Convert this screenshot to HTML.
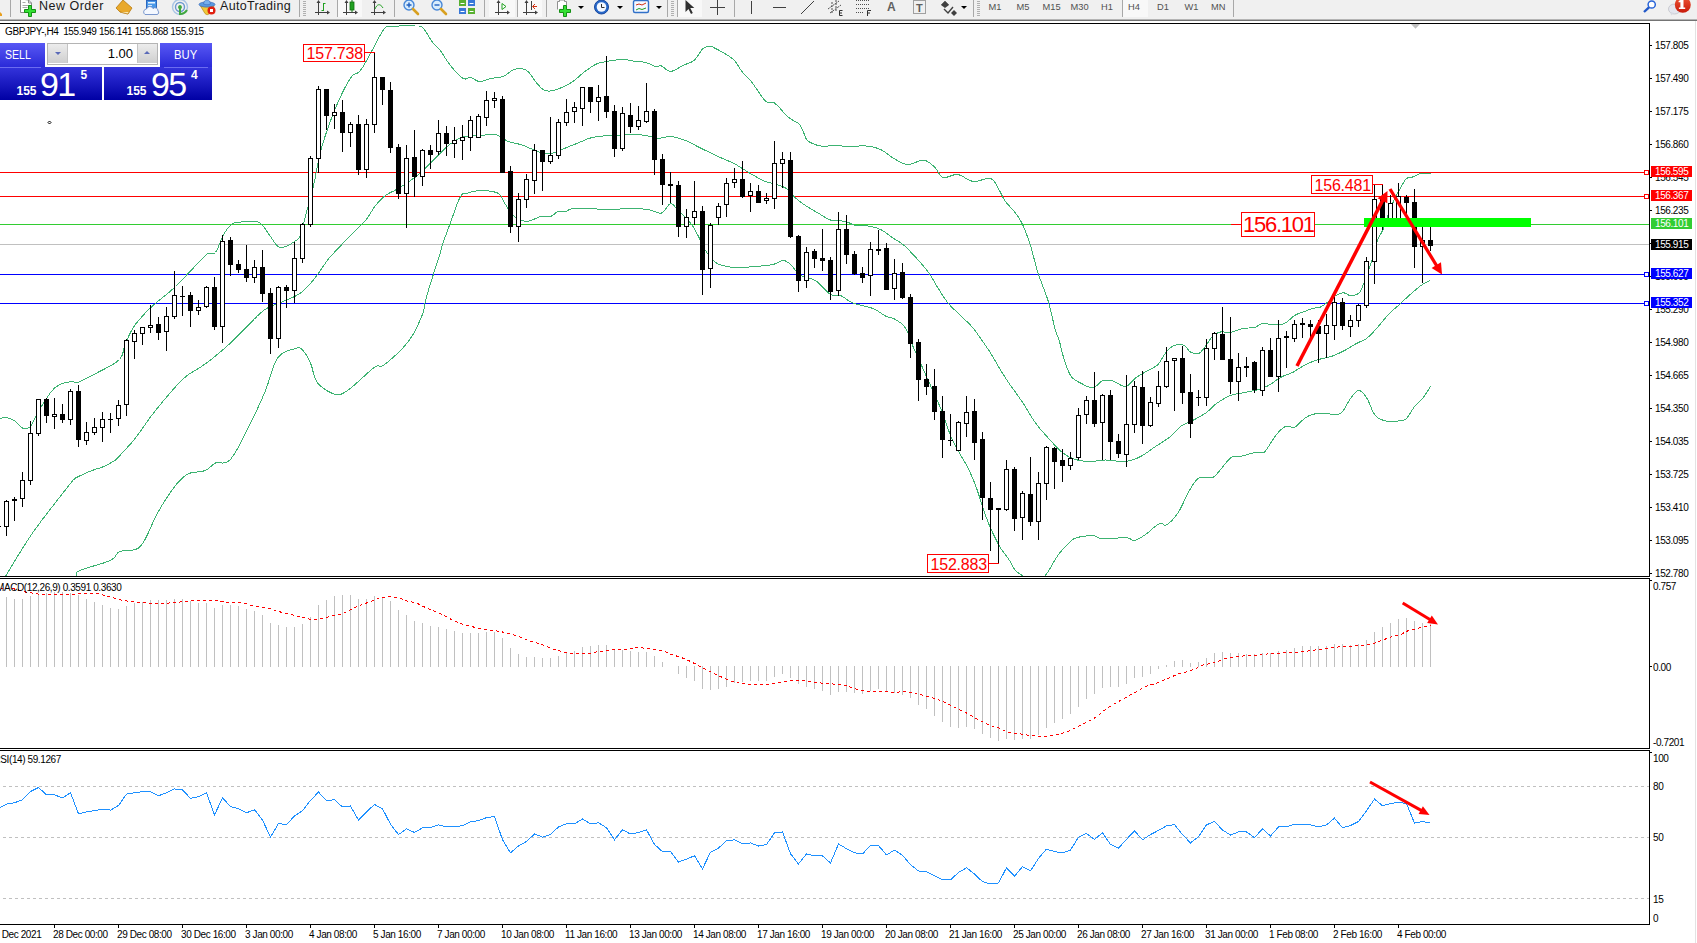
<!DOCTYPE html>
<html><head><meta charset="utf-8"><title>GBPJPY H4</title>
<style>
html,body{margin:0;padding:0;background:#fff;}
body{width:1697px;height:943px;position:relative;overflow:hidden;font-family:"Liberation Sans",sans-serif;}
.t{position:absolute;white-space:nowrap;font-family:"Liberation Sans",sans-serif;}
#chart{position:absolute;left:0;top:0;}
#tb{position:absolute;left:0;top:0;width:1697px;height:19px;background:#f0f0f0;}
#tbl1{position:absolute;left:0;top:19px;width:1697px;height:1px;background:#b4b4b4;}
#tbl2{position:absolute;left:0;top:20px;width:1697px;height:1px;background:#747474;}
.sep{position:absolute;top:0;width:1px;height:17px;background:#a8a8a8;}
.act{position:absolute;top:0;height:17px;background:#f8f8f8;}
.grip{position:absolute;top:1px;width:3px;height:15px;background:repeating-linear-gradient(#b0b0b0 0 1px,#f0f0f0 1px 2px);}
.tf{position:absolute;top:2px;font-size:9.3px;line-height:10px;color:#505050;}
.dd{position:absolute;top:6px;width:0;height:0;border-left:3px solid transparent;border-right:3px solid transparent;border-top:3px solid #000;}
.ico{position:absolute;top:0;}
#edge{position:absolute;left:1695px;top:21px;width:1px;height:922px;background:#e3e3e3;}
/* one click panel */
.bl{position:absolute;}
</style></head><body>
<svg id="chart" width="1697" height="943" viewBox="0 0 1697 943" shape-rendering="crispEdges">
<defs><clipPath id="cm"><rect x="0" y="24" width="1649" height="552"/></clipPath></defs>
<rect x="0" y="172" width="1649" height="1" fill="#ff0000"/>
<rect x="0" y="196" width="1649" height="1" fill="#ff0000"/>
<rect x="0" y="224" width="1649" height="1" fill="#32cd32"/>
<rect x="0" y="244" width="1649" height="1" fill="#c0c0c0"/>
<rect x="0" y="274" width="1649" height="1" fill="#0000ff"/>
<rect x="0" y="303" width="1649" height="1" fill="#0000ff"/>
<g clip-path="url(#cm)">
<polyline points="0.5,418.5 1.5,418.2 2.9,417.7 4.6,417.4 6.5,417.5 8.6,418.1 10.9,419 13.3,420.2 15.5,421.5 17.4,423.1 19.1,425.1 20.7,426.9 22.5,428 24.5,428.5 26.5,428.5 28.5,427.9 30.5,426.5 32.1,424.2 33.4,421.2 35.1,417.5 37.5,413 41,407.1 45.4,400.1 50,393.2 54.5,388 59,384.9 63.7,383.1 68,382.2 71.5,381.5 73.4,381.5 74.2,382.3 75.1,382.9 77.5,382.5 81.9,380.6 87.6,377.8 93.8,374.6 99.5,371.5 105,368.7 110.5,365.8 115.5,362.8 119.5,359.5 121.9,355.8 123.3,351.7 124.2,347.6 125.5,343.5 127.2,339.5 129,335.5 130.9,331.7 133,328 135.3,324.6 137.8,321.4 140.4,318.4 143,315.5 145.2,313 147.2,310.9 149.6,308.6 153,305.5 157.7,301.5 163.3,297 169.4,292 175.5,286.5 182,280 188.9,272.7 195.4,265.8 200.5,260.5 203.6,257.3 205.3,255.4 206.5,254.4 208,253.5 209.9,253.2 211.7,253.6 213.6,253.7 215.5,252.5 217.4,249.2 219.3,244.6 221.1,239.6 223,235.5 224.9,232.3 226.8,229.6 228.7,227.3 230.5,225.5 231.8,224.2 232.8,223.4 234.1,222.9 236.5,222.5 240.6,222 245.9,221.5 251.3,221.3 255.5,221.5 258.2,222.1 260,223 261.4,224.3 263,226 264.9,228.2 266.7,230.9 268.6,233.8 270.5,236.5 272.4,239.3 274.3,242.2 276.1,244.7 278,246.5 279.8,247.3 281.7,247.4 283.5,247.1 285.5,246.5 287.7,245.6 290.1,244.4 292.4,242.9 294.5,241.5 296.2,240.3 297.8,239.3 299.2,237.8 300.5,235.5 301.6,232.2 302.6,228.3 303.7,223.5 305,218 306.7,211.6 308.7,204.4 310.9,196.5 313,188 315,178.7 316.9,168.6 319,158.2 321.5,148 324.6,137.8 328.1,127.4 331.8,117.3 335.5,108 339.3,99.2 343.3,90.9 347.1,83.6 350.5,78 353.2,74.9 355.4,73.7 357.4,73.1 359.5,71.5 361.5,68.9 363.4,66.1 365.4,62.5 368,58 371.5,51.6 375.6,43.7 379.6,36.1 383,30.5 385,27.8 386.1,26.8 387.6,26.7 390.5,26.5 395.9,26.1 403,25.9 410.1,25.9 415.5,26 418.5,26 420.2,26 421.4,26.5 423,28 425.4,31 428.1,35.2 430.7,39.5 433,43 434.8,45 436.2,46.2 437.6,47.4 439.5,49.5 441.9,52.9 444.6,57.1 447.5,61.5 450.5,65.5 453.6,69.3 457,73.1 460.2,76.3 463,78.5 465.2,79.1 467,78.6 468.6,77.7 470.5,77.5 472.6,78.3 474.8,79.6 477.1,80.9 479.5,81.5 482.1,81.2 484.8,80.4 487.6,79.3 490.5,78.5 493.6,78 496.8,77.7 500,77.3 503,76.5 505.7,75.1 508.3,73.2 510.7,71.4 513,70 515.1,69.2 516.9,68.7 518.7,68.4 520.5,68.5 522.4,68.8 524.3,69.3 526.1,70.2 528,71.5 529.9,73.6 531.7,76.2 533.6,79 535.5,81.5 537.4,83.8 539.3,86 541.1,88 543,89.5 544.8,90.4 546.6,90.9 548.4,91.1 550.5,91 552.8,90.6 555.2,90 557.8,89.1 560.5,88 563.5,86.7 566.7,85.1 570,83.3 573,81.5 575.6,79.5 578,77.4 580.4,75.2 583,73 586,70.7 589.2,68.4 592.4,66.2 595.5,64.5 598.2,63.3 600.7,62.6 603.4,62.1 606.5,61.5 610.4,60.8 614.8,60.2 619.2,59.7 623,59.5 625.9,59.6 628.3,60 630.5,60.5 633,61 636,61.3 639.3,61.6 642.5,61.9 645.5,62.5 648.3,63.4 650.9,64.6 653.3,65.8 655.5,66.5 657.2,66.6 658.6,66.2 659.9,65.8 661.5,66 663.5,67.2 665.6,69.1 667.9,70.8 670.5,71.5 673.4,70.8 676.6,69.2 679.9,67.2 683,65.5 686,64.2 689,63.1 691.9,61.8 694.5,60 696.9,57.3 699,54 701,50.8 703,48.5 705,47.2 706.9,46.6 708.8,46.5 710.5,46.5 712,46.7 713.4,47.3 714.8,48.1 716.5,49 718.5,50 720.8,51.3 723.2,52.6 725.5,54 727.8,55.4 730.1,56.9 732.4,58.6 734.5,60.5 736.3,62.9 738,65.6 739.7,68.4 741.5,71 743.6,73.4 746,75.7 748.3,78.1 750.5,80.5 752.5,83.1 754.3,85.7 756.1,88.4 758,91 760,93.8 761.9,96.8 764,99.5 766,101.5 768,102.3 770.1,102.2 772.2,102.1 774.5,103 777.2,105.3 780.2,108.5 783,111.8 785.5,114.5 787.3,116.2 788.7,117.4 790,118.4 791.5,119.5 793.4,120.6 795.6,121.7 797.7,122.9 799.5,124.5 801,126.7 802.3,129.4 803.4,132.1 804.5,134.5 805.3,136.4 805.8,138.1 806.5,139.6 808,141 810.4,142.5 813.5,143.9 817,145.2 820.5,146 824.1,146.2 828,146 831.9,145.6 835.5,145.5 838.7,145.7 841.6,146 844.6,146.3 848,146.5 852.1,146.4 856.6,146.1 861.2,145.9 865.5,146 869.4,146.4 873.2,147.1 876.8,148.1 880.5,149.5 884.3,151.7 888.2,154.4 891.9,157.2 895.5,159.5 898.8,161.3 901.9,162.9 904.9,164 908,164.5 911.3,164 914.7,162.8 917.8,161.4 920.5,160.5 922.4,160.2 923.7,160.1 924.9,160.3 926.5,161 928.6,162.2 930.9,163.9 933.3,165.9 935.5,168 937.3,170.5 938.9,173.4 940.6,175.9 943,177.5 946.2,177.4 950,176.2 954.1,174.8 958,174.5 961.7,175.8 965.3,178 969.1,180.2 973,181.5 977.4,181.2 982.2,179.8 986.8,178.6 990.5,178.5 993.1,179.9 994.9,182.2 996.4,185.1 998,188 999.8,191.1 1001.6,194.6 1003.4,198.2 1005.5,201.5 1007.9,204.5 1010.5,207.3 1013.1,210.1 1015.5,213 1017.6,215.9 1019.4,218.7 1021.2,221.8 1023,225.5 1024.9,229.8 1026.7,234.6 1028.6,239.8 1030.5,245.5 1032.3,251.8 1034.1,258.8 1035.9,265.9 1038,273 1040.4,279.8 1043,286.6 1045.6,293.4 1048,300.5 1050.1,308.3 1052.1,316.6 1053.9,324.3 1055.5,330.5 1056.7,334.3 1057.6,336.4 1058.4,338.1 1059.3,340.5 1060.1,343.8 1060.9,347.4 1061.8,351.3 1063,355.5 1064.6,360.4 1066.4,366 1068.4,371.3 1070.5,375.5 1072.8,378.3 1075.2,380.2 1077.8,381.6 1080.5,383 1083.5,384.6 1086.7,386.2 1090,387.3 1093,387.5 1095.7,386.4 1098.2,384.3 1100.6,382 1103,380.5 1105.4,380 1107.8,380 1110.3,380.3 1113,381 1116,382.4 1119.3,384.3 1122.5,386 1125.5,386.5 1128.1,385.3 1130.5,383.1 1132.9,380.4 1135.5,378 1138.5,376 1141.7,374.1 1145,372.2 1148,370.5 1150.7,369 1153.3,367.7 1155.7,366.4 1158,364.5 1160.1,361.9 1161.9,358.8 1163.7,355.7 1165.5,353 1167.4,350.8 1169.3,348.9 1171.1,347.3 1173,346 1174.9,345.2 1176.9,344.7 1178.8,344.5 1180.5,344.5 1181.9,344.7 1183.2,345.1 1184.3,345.7 1185.5,346.5 1186.7,347.7 1187.8,349.3 1189,350.8 1190.5,352 1192.3,352.8 1194.4,353.5 1196.6,353.7 1198.5,353.5 1200.1,352.6 1201.5,351.3 1202.9,349.5 1204.5,347.5 1206.4,344.9 1208.4,341.9 1210.5,338.9 1212.5,336.5 1214.5,334.8 1216.4,333.5 1218.4,332.6 1220.5,332 1222.8,331.9 1225.3,332.2 1227.8,332.6 1230.5,332.5 1233.4,331.7 1236.4,330.6 1239.5,329.4 1242.5,328.5 1245.6,328.1 1248.7,328 1251.8,327.9 1254.5,327.5 1256.7,326.6 1258.6,325.4 1260.5,324.2 1262.5,323.5 1264.8,323.4 1267.3,323.8 1269.8,324.3 1272.5,324.5 1275.4,324.6 1278.5,324.6 1281.6,324.3 1284.5,323.5 1287.1,321.9 1289.6,319.7 1292,317.4 1294.5,315.5 1297,314.2 1299.6,313.2 1302.1,312.3 1304.5,311.5 1306.6,310.6 1308.6,309.8 1310.5,309.1 1312.5,308.5 1314.5,308.1 1316.5,307.9 1318.5,307.6 1320.5,307 1322.5,305.9 1324.6,304.5 1326.6,302.9 1328.5,301.5 1330.1,300.2 1331.6,298.8 1333,297.6 1334.5,296.5 1336,295.6 1337.6,294.7 1339.1,294 1340.5,293.5 1341.6,293.1 1342.5,292.9 1343.4,292.9 1344.5,293 1345.8,293.5 1347.3,294.3 1348.8,295.1 1350.5,295.5 1352.5,295.4 1354.6,295.1 1356.7,294.5 1358.5,293.5 1359.7,292.4 1360.6,291 1361.4,289.2 1362.5,286.5 1364.1,282.5 1365.9,277.5 1367.7,272.4 1369.3,268 1370.4,264.7 1371.3,262.1 1372.1,259.5 1373,256.5 1374,252.7 1375.1,248.5 1376.3,244.3 1377.5,240.5 1378.8,237.5 1380.2,234.9 1381.6,232.3 1383,229.5 1384.3,226.2 1385.5,222.7 1386.7,219.1 1388,215.5 1389.4,211.9 1390.7,208.3 1392.1,204.7 1393.5,201.5 1394.8,198.6 1396.1,196.1 1397.3,193.7 1398.5,191.5 1399.6,189.5 1400.6,187.7 1401.5,186.1 1402.5,184.5 1403.5,182.8 1404.4,181.1 1405.4,179.6 1406.5,178.5 1407.6,178 1408.7,177.9 1409.9,177.8 1411.5,177.5 1413.4,176.6 1415.7,175.5 1418.1,174.3 1420.5,173.5 1423.2,173.1 1426.1,173 1428.7,173 1430.5,173" fill="none" stroke="#3cb371" stroke-width="1" />
<polyline points="-2.5,590.5 -1.5,588.7 -0.2,586.2 2,582.4 5.5,576.5 10.7,567.8 17.2,556.9 24.6,545 32.5,533 41.9,520.1 52.7,506.1 62.7,493.3 70,484 73.5,479.6 74.3,478.6 74.2,479 74.5,479 75.3,478.3 75.9,477.8 76.8,477.3 78.5,476.5 81.3,475.2 84.8,473.6 88.6,471.9 92,470.5 94.9,469.5 97.6,468.6 100.1,467.9 102.5,467 104.7,466 106.8,465 108.7,464 110.5,463 112,462.2 113.3,461.4 114.6,460.6 116,459.5 117.4,458.2 118.8,456.7 120.4,454.9 122.5,452.5 125.1,449.7 128.2,446.5 131.6,442.7 135.5,438 139.8,432.1 144.6,425.3 149.8,417.9 155.5,410.5 161.9,402.6 169.1,394.1 176.1,386.1 182.5,379.5 188,374.9 193,371.6 197.5,369 201.5,366.5 204.8,364.2 207.3,362.4 209.9,360.5 213,358 217,354.7 221.5,350.9 226.2,346.9 230.5,343 234.4,339.3 238.2,335.5 241.8,331.7 245.5,328 249.4,324.1 253.3,320 257.1,316.2 260.5,313 263.2,310.8 265.5,309.2 267.8,307.9 270.5,306.5 273.9,305 277.7,303.6 281.6,302.1 285.5,300.5 289.3,298.8 293.2,297.2 296.9,295.3 300.5,293 303.8,290.3 306.9,287.4 309.9,284.1 313,280.5 316.3,276.2 319.7,271.4 322.9,266.7 325.5,263 326.9,260.9 327.5,260 328.4,258.9 330.5,256.5 334.6,252.1 339.9,246.5 345.5,240.7 350.5,235.5 354.7,231.3 358.6,227.6 362.2,224.1 365.5,220.5 368.4,216.6 370.8,212.7 373.1,208.9 375.5,205.5 378,202.6 380.4,199.9 382.9,197.6 385.5,195.5 388.1,193.8 390.7,192.4 393.5,191.1 396.5,189.5 399.9,187.4 403.6,185.1 407.2,182.7 410.5,180.5 413.2,178.6 415.6,177 417.9,175.2 420.5,173 423.4,170.2 426.6,167.1 429.8,163.7 433,160.5 436.2,157.3 439.4,153.9 442.6,150.8 445.5,148 448.2,145.7 450.7,143.7 453.1,142 455.5,140.5 457.9,139.2 460.2,138.1 462.6,137.2 465.5,136.5 469,136 472.8,135.8 476.8,135.7 480.5,135.5 483.9,135.2 487.2,134.8 490.3,134.5 493,134.5 495.2,134.7 497.1,135.1 498.7,135.7 500.5,136.5 502.3,137.6 503.9,138.9 505.8,140.3 508,141.5 510.8,142.3 513.9,143 517.3,143.7 520.5,144.5 523.7,145.6 526.9,147 530.1,148.3 533,149.5 535.7,150.6 538.2,151.6 540.6,152.4 543,153 545.4,153.4 547.8,153.5 550.3,153.4 553,153 555.9,152.1 559.1,150.8 562.3,149.4 565.5,148 568.6,146.7 571.7,145.5 574.9,144.3 578,143 581.1,141.7 584.3,140.3 587.4,139 590.5,138 593.6,137.3 596.7,136.7 599.9,136.3 603,136 606.2,135.8 609.4,135.7 612.6,135.6 615.5,135.5 618.1,135.3 620.5,135 622.9,134.7 625.5,134.5 628.4,134.4 631.6,134.3 634.8,134.3 638,134.5 641.2,134.9 644.6,135.4 647.7,136 650.5,136.5 652.6,137.1 654.3,137.7 655.9,138.3 658,138.5 660.7,138.1 663.8,137.4 667.1,136.7 670.5,136.5 674.1,137 677.8,137.9 681.7,139.1 685.5,140.5 689.2,142.1 692.8,144 696.6,146 700.5,148 704.8,150.1 709.3,152.3 713.7,154.5 718,156.5 722,158.2 725.8,159.8 729.5,161.4 733,163 736.4,164.8 739.6,166.8 742.6,168.7 745.5,170.5 748.2,172.1 750.7,173.7 753.1,175.1 755.5,176.5 758.1,177.9 760.7,179.3 763.2,180.5 765.5,181.5 767.4,182.2 769.1,182.5 770.8,182.9 773,183.5 775.8,184.3 779.1,185.3 782.4,186.4 785.5,188 788.2,190.2 790.7,192.8 793.1,195.5 795.5,198 797.9,200 800.2,201.8 802.6,203.6 805.5,205.5 809,207.7 813,210.1 817,212.5 820.5,214.5 823.2,216.2 825.5,217.7 827.8,219 830.5,220 834,220.6 838,220.8 842,221 845.5,221.5 848.3,222.4 850.7,223.6 852.9,224.7 855.5,225.5 858.4,225.8 861.6,225.8 864.8,225.7 868,226 871.1,226.5 874.3,227.3 877.4,228.2 880.5,229.5 883.7,231.3 886.9,233.6 890.1,235.9 893,238 895.7,239.7 898.2,241.2 900.6,242.7 903,244.5 905.5,246.7 908,249.2 910.5,251.8 913,254.5 915.6,257.2 918.2,260 920.7,262.8 923,265.5 925.1,268 926.9,270.4 928.7,272.8 930.5,275.5 932.3,278.4 934.1,281.4 935.9,284.6 938,288 940.3,291.6 942.7,295.5 945.3,299.4 948,303 950.9,306.3 954.1,309.4 957.3,312.4 960.5,315.5 963.6,318.5 966.7,321.4 969.9,324.5 973,328 976.3,332.3 979.7,337.1 982.9,341.7 985.5,345.5 987,347.7 987.8,348.8 988.7,350.1 990.5,353 993.5,358 997.2,364.4 1001.3,371.3 1005.5,378 1009.8,384.4 1014.4,390.8 1018.9,397.1 1023,403 1026.4,408.4 1029.4,413.5 1032.3,418.3 1035.5,423 1039.1,427.7 1043,432.2 1046.9,436.5 1050.5,440.5 1053.8,444.1 1056.9,447.4 1059.9,450.4 1063,453 1066.1,455.2 1069.1,456.9 1072.2,458.3 1075.5,459.5 1079.1,460.4 1082.8,461 1086.7,461.4 1090.5,461.5 1094.1,461.3 1097.7,460.8 1101.4,460.2 1105.5,460 1110.3,460.3 1115.5,461 1120.7,461.5 1125.5,461.5 1129.6,460.8 1133.3,459.7 1136.9,458.3 1140.5,456.5 1144.3,454.4 1148,451.8 1151.7,449.1 1155.5,446.5 1159.4,444 1163.3,441.5 1167.1,439 1170.5,436.5 1173.3,433.9 1175.7,431.3 1178,428.7 1180.5,426.5 1183.3,424.8 1186.3,423.4 1189.3,422 1192.5,420.5 1196,418.7 1199.6,416.7 1203.2,414.6 1206.5,412.5 1209.2,410.3 1211.5,408 1213.8,405.7 1216.5,403.5 1219.7,401.3 1223.3,399.1 1226.9,397.1 1230.5,395.5 1234,394.4 1237.6,393.7 1241.1,393.1 1244.5,392.5 1247.6,391.9 1250.6,391.3 1253.5,390.8 1256.5,390 1259.5,389.1 1262.5,388.1 1265.5,386.9 1268.5,385.5 1271.5,383.7 1274.5,381.5 1277.5,379.4 1280.5,377.5 1283.6,376 1286.7,374.8 1289.8,373.7 1292.5,372.5 1294.7,371.3 1296.5,370.1 1298.3,368.8 1300.5,367.5 1303.3,366 1306.5,364.3 1309.7,362.8 1312.5,361.5 1314.7,360.6 1316.5,360.1 1318.3,359.6 1320.5,359 1323.2,358.3 1326.3,357.7 1329.4,356.9 1332.5,356 1335.5,354.8 1338.5,353.5 1341.5,352 1344.5,350.5 1347.5,348.8 1350.6,347 1353.6,345.1 1356.5,343.5 1359.1,342.2 1361.6,341.2 1364,340.1 1366.5,338.5 1369,336.4 1371.4,334.1 1373.9,331.4 1376.5,328.5 1379.4,325.2 1382.4,321.6 1385.5,317.9 1388.5,314.5 1391.5,311.5 1394.5,308.8 1397.5,306.2 1400.5,303.5 1403.5,300.7 1406.6,297.8 1409.6,295 1412.5,292.5 1415.2,290.2 1417.7,288.1 1420.2,286.1 1422.5,284.5 1424.8,283.1 1427.1,282 1429.1,281.1 1430.5,280.5" fill="none" stroke="#3cb371" stroke-width="1" />
<polyline points="70.5,590.5 71.6,587.8 73.3,583.9 75.1,579.8 76.5,576.5 76.8,574.5 76.4,573.3 76.9,572.1 79.5,570.5 85.8,568.3 94.6,565.7 103.6,563 110.5,560.5 114.1,558 115.9,555.5 117.3,553.2 119.5,551.5 123.2,550.7 127.5,550.5 131.8,550.3 135.5,549.5 138.1,548.2 140.2,546.6 142.1,544.2 144.5,540.5 147.4,534.8 150.6,527.7 154,520 157.5,513 161.2,506.6 165.2,500.3 169.1,494.4 172.5,489.5 175.4,485.6 177.9,482.6 180.3,480.1 182.5,478 184.5,476.2 186.2,474.9 188.1,473.9 190.5,473 193.9,472.3 197.9,471.9 201.9,471.4 205.5,470.5 208.2,468.9 210.5,466.8 212.8,464.7 215.5,463 218.8,462.6 222.4,463.1 226.3,462.6 230.5,459.5 235.3,452.6 240.5,443.1 245.7,432.6 250.5,423 254.7,414.6 258.5,406.5 262.1,398.5 265.5,390.5 268.6,381.8 271.3,372.8 274.1,364.5 277.5,358 281.8,353.7 286.8,351.1 291.6,349.6 295.5,348.5 298,347.8 299.6,347.8 300.9,348.6 302.5,350 304.5,352.3 306.5,355.3 308.5,359 310.5,363 312.1,367.7 313.4,373.1 315,378.4 317.5,383 321.4,386.8 326.2,390.3 331.2,392.9 335.5,394.5 338.9,394.8 341.8,393.9 344.6,392.4 347.5,390.5 350.6,388.3 353.8,385.6 357.1,382.6 360.5,379.5 364.3,376.1 368.3,372.4 372.2,369 375.5,366.5 377.7,365.7 379.1,366.1 380.6,366.5 383,365.5 386.8,362.8 391.4,358.9 396.2,354.6 400.5,350.5 404,346.7 407.2,342.9 410.2,338.9 413,334.5 415.9,329.3 418.6,323.5 421.1,317.9 423,313 424,309.5 424.4,307 424.7,304.3 425.5,300.5 427.1,295 429,288.4 431.1,281.6 433,275.5 434.7,270.2 436.4,265.3 437.9,260.7 439.3,256.5 440.3,252.9 441,249.8 441.9,246.7 443,243 444.6,238.5 446.4,233.5 448.4,228.2 450.5,222.5 452.9,215.9 455.5,208.4 458.1,201.5 460.5,196.5 462.4,194 464.1,193.3 465.8,193.3 468,193 470.7,192.2 473.8,191.4 477.2,190.8 480.5,190.5 484.1,190.5 487.9,190.9 491.5,191.4 494.5,192 496.6,192.6 498.1,193.3 499.3,194.2 500.5,195.5 501.8,197.3 502.9,199.5 504.1,202 505.5,204.5 507.1,207.2 508.7,210.2 510.6,213.1 513,215.5 515.9,217.6 519.3,219.5 522.9,220.9 526.5,221.5 530.1,220.9 533.7,219.4 537.3,217.7 540.5,216.5 543.3,216.3 545.9,216.5 548.3,216.7 550.5,216.5 552.6,215.5 554.4,214 556.2,212.5 558,211.5 559.8,211.2 561.6,211.4 563.4,211.6 565.5,211.5 567.2,210.9 568.6,209.9 571,209 575.5,208.5 583.5,208.5 594.1,208.9 604.7,209.3 613,209.5 617.6,209.3 620.2,209 622.3,208.7 625.5,208.5 630.6,208.6 636.7,208.7 642.8,209 648,209.5 652.1,210.5 655.6,211.9 658.7,213 661.5,213 664.1,211.2 666.4,208 668.5,205 670.5,203.5 672.4,204 674,205.6 675.8,208 678,210.5 680.9,213.2 684.3,216.4 687.6,219.7 690.5,223 692.7,226.1 694.6,229.1 696.2,232.2 698,235.5 699.8,239.2 701.7,243.1 703.5,247 705.5,250.5 707.7,253.7 709.9,256.7 712.3,259.3 714.5,261.5 716.6,263 718.5,264.1 720.6,264.8 723,265.5 725.7,266.2 728.5,266.8 731.8,267.3 735.5,267.5 740,267.5 745.2,267.3 750.5,266.9 755.5,266.5 760.2,266.1 764.9,265.7 769.2,265.2 773,264.5 776.1,263.5 778.6,262.1 780.9,261 783,260.5 785,260.8 786.7,261.6 788.5,262.8 790.5,264.5 792.7,266.9 795,269.9 797.6,273 800.5,275.5 803.9,277 807.7,277.8 811.6,278.8 815.5,280.5 819.4,283.7 823.3,287.7 827.1,291.7 830.5,294.5 833.3,295.5 835.7,295.4 837.9,295.1 840.5,295.5 843.3,297 846.1,299 849.3,301.1 853,303 857.6,304.5 863,305.7 868.4,307 873,308.5 876.7,310.3 879.9,312.4 882.7,314.4 885.5,316 888.2,317 890.7,317.7 893.1,318.4 895.5,319.5 898.1,321.1 900.7,323 903.3,325.3 905.5,328 907.2,331.2 908.6,334.8 909.9,338.7 911.5,343 913.5,347.6 915.7,352.5 918.1,357.7 920.5,363 922.9,368.4 925.4,374.1 928,379.8 930.5,385.5 933,391 935.5,396.4 938,402 940.5,408 943.1,414.8 945.7,422.2 948.2,429.4 950.5,435.5 952.5,440.1 954.3,443.6 956,446.9 958,450.5 960.4,454.6 962.9,458.9 965.5,463.4 968,468 970.3,472.8 972.5,477.8 974.6,482.9 976.5,488 978.2,493 979.8,498 981.4,503 983,508 984.7,513 986.5,518 988.4,523 990.5,528 992.9,533.2 995.5,538.6 998.1,543.7 1000.5,548 1002.6,551.1 1004.4,553.5 1006.2,555.6 1008,558 1009.9,561.1 1011.7,564.5 1013.6,567.8 1015.5,570.5 1017.3,572.3 1019.1,573.4 1021,574.6 1023,576.5 1025.2,580.1 1027.5,584.7 1030,588.7 1032.5,590.5 1035.3,589 1038.3,585.3 1041.1,580.9 1043.5,577.5 1045.1,575.7 1046.1,574.5 1047,573.2 1048.5,571 1050.6,567.5 1053.1,563.2 1055.7,558.6 1058.5,554.5 1061.5,550.8 1064.7,547.2 1067.8,544 1070.5,541.5 1072.4,539.8 1073.8,538.8 1075.3,538.1 1077.5,537.5 1080.8,536.7 1084.9,536.1 1089,535.6 1092.5,535.5 1095,536 1096.9,536.9 1098.9,537.9 1101.5,538.5 1105.3,538.6 1109.7,538.4 1114.2,538.2 1118,538 1121,537.9 1123.6,537.8 1125.9,537.8 1128,538 1129.8,538.6 1131.2,539.6 1132.6,540.4 1134.5,540.5 1136.9,539.7 1139.5,538.3 1142.4,536.6 1145.5,534.5 1149,531.8 1152.7,528.5 1156.4,525.5 1159.5,523.5 1161.6,523.3 1163.2,524.3 1164.6,525.3 1166.5,525 1169.1,523.1 1172.1,520.3 1175.1,516.9 1178,513 1180.6,508.4 1183.1,503.2 1185.5,497.8 1188,493 1190.5,488.7 1193,484.5 1195.5,481 1198,478.5 1200.6,477.4 1203.2,477.5 1205.7,477.9 1208,478 1209.9,477.9 1211.4,477.8 1213.2,477.2 1215.5,475.5 1218.8,471.8 1222.8,466.7 1226.9,461.6 1230.5,458 1233.3,456.5 1235.7,456.4 1237.9,456.6 1240.5,456.5 1243.5,455.7 1246.7,454.7 1250,453.7 1253,453 1255.8,452.7 1258.6,452.7 1261,452.7 1263,452.5 1264.2,452.2 1264.7,451.9 1265.3,451.2 1266.5,449.5 1268.6,446.4 1271.2,442.3 1274,438 1276.5,434.5 1278.7,431.9 1280.8,429.8 1282.8,428.2 1284.5,427 1286,426.3 1287.2,426.2 1288.3,426.4 1289.5,426.5 1290.6,426.9 1291.7,427.5 1292.9,427.9 1294.5,427.5 1296.7,425.8 1299.3,423.3 1302,420.6 1304.5,418.5 1306.6,417.1 1308.6,416 1310.5,415.2 1312.5,414.5 1314.5,414 1316.5,413.7 1318.5,413.6 1320.5,413.5 1322.5,413.4 1324.6,413.3 1326.6,413.4 1328.5,413.5 1330.1,413.9 1331.5,414.5 1332.9,414.9 1334.5,415 1336.4,414.7 1338.4,414.2 1340.5,413.2 1342.5,411.5 1344.5,408.8 1346.5,405.3 1348.5,401.6 1350.5,398.5 1352.5,395.8 1354.5,393.3 1356.5,391.3 1358.5,390.5 1360.5,391 1362.5,392.4 1364.5,394.7 1366.5,397.5 1368.5,401.3 1370.5,406.1 1372.5,410.8 1374.5,414.5 1376.5,416.8 1378.5,418.2 1380.5,419.2 1382.5,420 1384.5,420.7 1386.5,421.1 1388.5,421.4 1390.5,421.5 1392.5,421.6 1394.5,421.5 1396.5,421.3 1398.5,421 1400.5,420.7 1402.5,420.5 1404.5,419.8 1406.5,418.5 1408.5,416.1 1410.5,412.8 1412.5,409.4 1414.5,406.5 1416.5,404.3 1418.5,402.5 1420.5,400.7 1422.5,398.5 1424.7,395.5 1427,392 1429.1,388.7 1430.5,386.5" fill="none" stroke="#3cb371" stroke-width="1" />
</g>
<rect x="6" y="500" width="1" height="36" fill="#000"/>
<rect x="4" y="501" width="5" height="26" fill="#000"/>
<rect x="5" y="502" width="3" height="24" fill="#fff"/>
<rect x="14" y="497" width="1" height="24" fill="#000"/>
<rect x="12" y="499" width="5" height="2" fill="#000"/>
<rect x="22" y="472" width="1" height="35" fill="#000"/>
<rect x="20" y="480" width="5" height="19" fill="#000"/>
<rect x="21" y="481" width="3" height="17" fill="#fff"/>
<rect x="30" y="421" width="1" height="64" fill="#000"/>
<rect x="28" y="433" width="5" height="48" fill="#000"/>
<rect x="29" y="434" width="3" height="46" fill="#fff"/>
<rect x="38" y="399" width="1" height="37" fill="#000"/>
<rect x="36" y="399" width="5" height="35" fill="#000"/>
<rect x="37" y="400" width="3" height="33" fill="#fff"/>
<rect x="46" y="398" width="1" height="25" fill="#000"/>
<rect x="44" y="399" width="5" height="17" fill="#000"/>
<rect x="54" y="398" width="1" height="31" fill="#000"/>
<rect x="52" y="414" width="5" height="3" fill="#000"/>
<rect x="53" y="415" width="3" height="1" fill="#fff"/>
<rect x="62" y="404" width="1" height="19" fill="#000"/>
<rect x="60" y="414" width="5" height="6" fill="#000"/>
<rect x="70" y="389" width="1" height="36" fill="#000"/>
<rect x="68" y="391" width="5" height="29" fill="#000"/>
<rect x="69" y="392" width="3" height="27" fill="#fff"/>
<rect x="78" y="385" width="1" height="62" fill="#000"/>
<rect x="76" y="391" width="5" height="49" fill="#000"/>
<rect x="86" y="422" width="1" height="23" fill="#000"/>
<rect x="84" y="432" width="5" height="9" fill="#000"/>
<rect x="85" y="433" width="3" height="7" fill="#fff"/>
<rect x="94" y="418" width="1" height="17" fill="#000"/>
<rect x="92" y="427" width="5" height="6" fill="#000"/>
<rect x="93" y="428" width="3" height="4" fill="#fff"/>
<rect x="102" y="412" width="1" height="30" fill="#000"/>
<rect x="100" y="419" width="5" height="9" fill="#000"/>
<rect x="101" y="420" width="3" height="7" fill="#fff"/>
<rect x="110" y="413" width="1" height="20" fill="#000"/>
<rect x="108" y="419" width="5" height="1" fill="#000"/>
<rect x="118" y="400" width="1" height="26" fill="#000"/>
<rect x="116" y="405" width="5" height="14" fill="#000"/>
<rect x="117" y="406" width="3" height="12" fill="#fff"/>
<rect x="126" y="339" width="1" height="77" fill="#000"/>
<rect x="124" y="340" width="5" height="65" fill="#000"/>
<rect x="125" y="341" width="3" height="63" fill="#fff"/>
<rect x="134" y="330" width="1" height="29" fill="#000"/>
<rect x="132" y="333" width="5" height="9" fill="#000"/>
<rect x="133" y="334" width="3" height="7" fill="#fff"/>
<rect x="142" y="327" width="1" height="18" fill="#000"/>
<rect x="140" y="327" width="5" height="7" fill="#000"/>
<rect x="141" y="328" width="3" height="5" fill="#fff"/>
<rect x="150" y="305" width="1" height="28" fill="#000"/>
<rect x="148" y="325" width="5" height="3" fill="#000"/>
<rect x="149" y="326" width="3" height="1" fill="#fff"/>
<rect x="158" y="317" width="1" height="23" fill="#000"/>
<rect x="156" y="324" width="5" height="9" fill="#000"/>
<rect x="166" y="307" width="1" height="44" fill="#000"/>
<rect x="164" y="316" width="5" height="16" fill="#000"/>
<rect x="165" y="317" width="3" height="14" fill="#fff"/>
<rect x="174" y="271" width="1" height="48" fill="#000"/>
<rect x="172" y="295" width="5" height="22" fill="#000"/>
<rect x="173" y="296" width="3" height="20" fill="#fff"/>
<rect x="182" y="286" width="1" height="30" fill="#000"/>
<rect x="180" y="296" width="5" height="1" fill="#000"/>
<rect x="190" y="292" width="1" height="35" fill="#000"/>
<rect x="188" y="295" width="5" height="16" fill="#000"/>
<rect x="198" y="300" width="1" height="15" fill="#000"/>
<rect x="196" y="307" width="5" height="4" fill="#000"/>
<rect x="197" y="308" width="3" height="2" fill="#fff"/>
<rect x="206" y="286" width="1" height="22" fill="#000"/>
<rect x="204" y="287" width="5" height="20" fill="#000"/>
<rect x="205" y="288" width="3" height="18" fill="#fff"/>
<rect x="214" y="277" width="1" height="53" fill="#000"/>
<rect x="212" y="287" width="5" height="40" fill="#000"/>
<rect x="222" y="235" width="1" height="108" fill="#000"/>
<rect x="220" y="241" width="5" height="86" fill="#000"/>
<rect x="221" y="242" width="3" height="84" fill="#fff"/>
<rect x="230" y="237" width="1" height="39" fill="#000"/>
<rect x="228" y="240" width="5" height="25" fill="#000"/>
<rect x="238" y="260" width="1" height="13" fill="#000"/>
<rect x="236" y="264" width="5" height="6" fill="#000"/>
<rect x="246" y="245" width="1" height="37" fill="#000"/>
<rect x="244" y="269" width="5" height="9" fill="#000"/>
<rect x="254" y="260" width="1" height="23" fill="#000"/>
<rect x="252" y="267" width="5" height="11" fill="#000"/>
<rect x="253" y="268" width="3" height="9" fill="#fff"/>
<rect x="262" y="250" width="1" height="52" fill="#000"/>
<rect x="260" y="267" width="5" height="27" fill="#000"/>
<rect x="270" y="288" width="1" height="66" fill="#000"/>
<rect x="268" y="293" width="5" height="46" fill="#000"/>
<rect x="278" y="286" width="1" height="62" fill="#000"/>
<rect x="276" y="287" width="5" height="52" fill="#000"/>
<rect x="277" y="288" width="3" height="50" fill="#fff"/>
<rect x="286" y="285" width="1" height="23" fill="#000"/>
<rect x="284" y="287" width="5" height="4" fill="#000"/>
<rect x="294" y="242" width="1" height="61" fill="#000"/>
<rect x="292" y="258" width="5" height="33" fill="#000"/>
<rect x="293" y="259" width="3" height="31" fill="#fff"/>
<rect x="302" y="223" width="1" height="40" fill="#000"/>
<rect x="300" y="224" width="5" height="35" fill="#000"/>
<rect x="301" y="225" width="3" height="33" fill="#fff"/>
<rect x="310" y="156" width="1" height="71" fill="#000"/>
<rect x="308" y="158" width="5" height="67" fill="#000"/>
<rect x="309" y="159" width="3" height="65" fill="#fff"/>
<rect x="318" y="86" width="1" height="87" fill="#000"/>
<rect x="316" y="89" width="5" height="70" fill="#000"/>
<rect x="317" y="90" width="3" height="68" fill="#fff"/>
<rect x="326" y="89" width="1" height="41" fill="#000"/>
<rect x="324" y="89" width="5" height="27" fill="#000"/>
<rect x="334" y="104" width="1" height="25" fill="#000"/>
<rect x="332" y="112" width="5" height="4" fill="#000"/>
<rect x="333" y="113" width="3" height="2" fill="#fff"/>
<rect x="342" y="100" width="1" height="52" fill="#000"/>
<rect x="340" y="112" width="5" height="21" fill="#000"/>
<rect x="350" y="122" width="1" height="25" fill="#000"/>
<rect x="348" y="124" width="5" height="9" fill="#000"/>
<rect x="349" y="125" width="3" height="7" fill="#fff"/>
<rect x="358" y="115" width="1" height="60" fill="#000"/>
<rect x="356" y="124" width="5" height="46" fill="#000"/>
<rect x="366" y="119" width="1" height="59" fill="#000"/>
<rect x="364" y="124" width="5" height="46" fill="#000"/>
<rect x="365" y="125" width="3" height="44" fill="#fff"/>
<rect x="374" y="52" width="1" height="81" fill="#000"/>
<rect x="372" y="77" width="5" height="48" fill="#000"/>
<rect x="373" y="78" width="3" height="46" fill="#fff"/>
<rect x="382" y="77" width="1" height="28" fill="#000"/>
<rect x="380" y="77" width="5" height="13" fill="#000"/>
<rect x="390" y="82" width="1" height="71" fill="#000"/>
<rect x="388" y="90" width="5" height="58" fill="#000"/>
<rect x="398" y="144" width="1" height="55" fill="#000"/>
<rect x="396" y="147" width="5" height="47" fill="#000"/>
<rect x="406" y="145" width="1" height="83" fill="#000"/>
<rect x="404" y="158" width="5" height="36" fill="#000"/>
<rect x="405" y="159" width="3" height="34" fill="#fff"/>
<rect x="414" y="130" width="1" height="67" fill="#000"/>
<rect x="412" y="157" width="5" height="20" fill="#000"/>
<rect x="422" y="149" width="1" height="37" fill="#000"/>
<rect x="420" y="150" width="5" height="27" fill="#000"/>
<rect x="421" y="151" width="3" height="25" fill="#fff"/>
<rect x="430" y="145" width="1" height="24" fill="#000"/>
<rect x="428" y="150" width="5" height="5" fill="#000"/>
<rect x="438" y="120" width="1" height="35" fill="#000"/>
<rect x="436" y="133" width="5" height="19" fill="#000"/>
<rect x="437" y="134" width="3" height="17" fill="#fff"/>
<rect x="446" y="126" width="1" height="30" fill="#000"/>
<rect x="444" y="133" width="5" height="11" fill="#000"/>
<rect x="454" y="127" width="1" height="31" fill="#000"/>
<rect x="452" y="140" width="5" height="4" fill="#000"/>
<rect x="453" y="141" width="3" height="2" fill="#fff"/>
<rect x="462" y="125" width="1" height="35" fill="#000"/>
<rect x="460" y="137" width="5" height="4" fill="#000"/>
<rect x="461" y="138" width="3" height="2" fill="#fff"/>
<rect x="470" y="116" width="1" height="35" fill="#000"/>
<rect x="468" y="120" width="5" height="18" fill="#000"/>
<rect x="469" y="121" width="3" height="16" fill="#fff"/>
<rect x="478" y="114" width="1" height="24" fill="#000"/>
<rect x="476" y="116" width="5" height="22" fill="#000"/>
<rect x="477" y="117" width="3" height="20" fill="#fff"/>
<rect x="486" y="91" width="1" height="35" fill="#000"/>
<rect x="484" y="100" width="5" height="18" fill="#000"/>
<rect x="485" y="101" width="3" height="16" fill="#fff"/>
<rect x="494" y="92" width="1" height="16" fill="#000"/>
<rect x="492" y="98" width="5" height="3" fill="#000"/>
<rect x="493" y="99" width="3" height="1" fill="#fff"/>
<rect x="502" y="96" width="1" height="77" fill="#000"/>
<rect x="500" y="99" width="5" height="74" fill="#000"/>
<rect x="510" y="166" width="1" height="67" fill="#000"/>
<rect x="508" y="171" width="5" height="56" fill="#000"/>
<rect x="518" y="193" width="1" height="49" fill="#000"/>
<rect x="516" y="199" width="5" height="28" fill="#000"/>
<rect x="517" y="200" width="3" height="26" fill="#fff"/>
<rect x="526" y="174" width="1" height="34" fill="#000"/>
<rect x="524" y="179" width="5" height="21" fill="#000"/>
<rect x="525" y="180" width="3" height="19" fill="#fff"/>
<rect x="534" y="144" width="1" height="50" fill="#000"/>
<rect x="532" y="150" width="5" height="31" fill="#000"/>
<rect x="533" y="151" width="3" height="29" fill="#fff"/>
<rect x="542" y="150" width="1" height="41" fill="#000"/>
<rect x="540" y="150" width="5" height="12" fill="#000"/>
<rect x="550" y="117" width="1" height="47" fill="#000"/>
<rect x="548" y="155" width="5" height="7" fill="#000"/>
<rect x="549" y="156" width="3" height="5" fill="#fff"/>
<rect x="558" y="119" width="1" height="40" fill="#000"/>
<rect x="556" y="122" width="5" height="34" fill="#000"/>
<rect x="557" y="123" width="3" height="32" fill="#fff"/>
<rect x="566" y="99" width="1" height="27" fill="#000"/>
<rect x="564" y="112" width="5" height="11" fill="#000"/>
<rect x="565" y="113" width="3" height="9" fill="#fff"/>
<rect x="574" y="102" width="1" height="21" fill="#000"/>
<rect x="572" y="107" width="5" height="5" fill="#000"/>
<rect x="573" y="108" width="3" height="3" fill="#fff"/>
<rect x="582" y="87" width="1" height="39" fill="#000"/>
<rect x="580" y="87" width="5" height="22" fill="#000"/>
<rect x="581" y="88" width="3" height="20" fill="#fff"/>
<rect x="590" y="87" width="1" height="26" fill="#000"/>
<rect x="588" y="87" width="5" height="15" fill="#000"/>
<rect x="598" y="85" width="1" height="36" fill="#000"/>
<rect x="596" y="97" width="5" height="5" fill="#000"/>
<rect x="597" y="98" width="3" height="3" fill="#fff"/>
<rect x="606" y="56" width="1" height="62" fill="#000"/>
<rect x="604" y="96" width="5" height="16" fill="#000"/>
<rect x="614" y="105" width="1" height="52" fill="#000"/>
<rect x="612" y="111" width="5" height="38" fill="#000"/>
<rect x="622" y="107" width="1" height="44" fill="#000"/>
<rect x="620" y="113" width="5" height="36" fill="#000"/>
<rect x="621" y="114" width="3" height="34" fill="#fff"/>
<rect x="630" y="103" width="1" height="30" fill="#000"/>
<rect x="628" y="115" width="5" height="12" fill="#000"/>
<rect x="638" y="106" width="1" height="24" fill="#000"/>
<rect x="636" y="120" width="5" height="7" fill="#000"/>
<rect x="637" y="121" width="3" height="5" fill="#fff"/>
<rect x="646" y="83" width="1" height="40" fill="#000"/>
<rect x="644" y="111" width="5" height="11" fill="#000"/>
<rect x="645" y="112" width="3" height="9" fill="#fff"/>
<rect x="654" y="109" width="1" height="66" fill="#000"/>
<rect x="652" y="111" width="5" height="49" fill="#000"/>
<rect x="662" y="154" width="1" height="51" fill="#000"/>
<rect x="660" y="159" width="5" height="26" fill="#000"/>
<rect x="670" y="172" width="1" height="31" fill="#000"/>
<rect x="668" y="184" width="5" height="2" fill="#000"/>
<rect x="678" y="181" width="1" height="56" fill="#000"/>
<rect x="676" y="185" width="5" height="42" fill="#000"/>
<rect x="686" y="209" width="1" height="29" fill="#000"/>
<rect x="684" y="217" width="5" height="10" fill="#000"/>
<rect x="685" y="218" width="3" height="8" fill="#fff"/>
<rect x="694" y="181" width="1" height="44" fill="#000"/>
<rect x="692" y="211" width="5" height="7" fill="#000"/>
<rect x="693" y="212" width="3" height="5" fill="#fff"/>
<rect x="702" y="206" width="1" height="89" fill="#000"/>
<rect x="700" y="211" width="5" height="59" fill="#000"/>
<rect x="710" y="223" width="1" height="65" fill="#000"/>
<rect x="708" y="225" width="5" height="44" fill="#000"/>
<rect x="709" y="226" width="3" height="42" fill="#fff"/>
<rect x="718" y="203" width="1" height="22" fill="#000"/>
<rect x="716" y="206" width="5" height="12" fill="#000"/>
<rect x="717" y="207" width="3" height="10" fill="#fff"/>
<rect x="726" y="178" width="1" height="39" fill="#000"/>
<rect x="724" y="183" width="5" height="22" fill="#000"/>
<rect x="725" y="184" width="3" height="20" fill="#fff"/>
<rect x="734" y="168" width="1" height="20" fill="#000"/>
<rect x="732" y="179" width="5" height="4" fill="#000"/>
<rect x="733" y="180" width="3" height="2" fill="#fff"/>
<rect x="742" y="161" width="1" height="37" fill="#000"/>
<rect x="740" y="179" width="5" height="18" fill="#000"/>
<rect x="750" y="183" width="1" height="29" fill="#000"/>
<rect x="748" y="191" width="5" height="5" fill="#000"/>
<rect x="749" y="192" width="3" height="3" fill="#fff"/>
<rect x="758" y="185" width="1" height="18" fill="#000"/>
<rect x="756" y="191" width="5" height="12" fill="#000"/>
<rect x="766" y="193" width="1" height="11" fill="#000"/>
<rect x="764" y="198" width="5" height="3" fill="#000"/>
<rect x="765" y="199" width="3" height="1" fill="#fff"/>
<rect x="774" y="141" width="1" height="68" fill="#000"/>
<rect x="772" y="163" width="5" height="36" fill="#000"/>
<rect x="773" y="164" width="3" height="34" fill="#fff"/>
<rect x="782" y="152" width="1" height="36" fill="#000"/>
<rect x="780" y="159" width="5" height="5" fill="#000"/>
<rect x="781" y="160" width="3" height="3" fill="#fff"/>
<rect x="790" y="152" width="1" height="86" fill="#000"/>
<rect x="788" y="160" width="5" height="77" fill="#000"/>
<rect x="798" y="235" width="1" height="57" fill="#000"/>
<rect x="796" y="236" width="5" height="45" fill="#000"/>
<rect x="806" y="247" width="1" height="41" fill="#000"/>
<rect x="804" y="252" width="5" height="29" fill="#000"/>
<rect x="805" y="253" width="3" height="27" fill="#fff"/>
<rect x="814" y="249" width="1" height="19" fill="#000"/>
<rect x="812" y="251" width="5" height="8" fill="#000"/>
<rect x="822" y="229" width="1" height="42" fill="#000"/>
<rect x="820" y="258" width="5" height="3" fill="#000"/>
<rect x="830" y="257" width="1" height="43" fill="#000"/>
<rect x="828" y="260" width="5" height="32" fill="#000"/>
<rect x="838" y="212" width="1" height="84" fill="#000"/>
<rect x="836" y="229" width="5" height="62" fill="#000"/>
<rect x="837" y="230" width="3" height="60" fill="#fff"/>
<rect x="846" y="215" width="1" height="49" fill="#000"/>
<rect x="844" y="229" width="5" height="26" fill="#000"/>
<rect x="854" y="251" width="1" height="24" fill="#000"/>
<rect x="852" y="254" width="5" height="20" fill="#000"/>
<rect x="862" y="267" width="1" height="16" fill="#000"/>
<rect x="860" y="273" width="5" height="5" fill="#000"/>
<rect x="870" y="242" width="1" height="54" fill="#000"/>
<rect x="868" y="249" width="5" height="27" fill="#000"/>
<rect x="869" y="250" width="3" height="25" fill="#fff"/>
<rect x="878" y="230" width="1" height="25" fill="#000"/>
<rect x="876" y="249" width="5" height="2" fill="#000"/>
<rect x="886" y="243" width="1" height="47" fill="#000"/>
<rect x="884" y="248" width="5" height="42" fill="#000"/>
<rect x="894" y="259" width="1" height="41" fill="#000"/>
<rect x="892" y="273" width="5" height="16" fill="#000"/>
<rect x="893" y="274" width="3" height="14" fill="#fff"/>
<rect x="902" y="263" width="1" height="36" fill="#000"/>
<rect x="900" y="272" width="5" height="26" fill="#000"/>
<rect x="910" y="294" width="1" height="64" fill="#000"/>
<rect x="908" y="297" width="5" height="47" fill="#000"/>
<rect x="918" y="339" width="1" height="62" fill="#000"/>
<rect x="916" y="342" width="5" height="38" fill="#000"/>
<rect x="926" y="364" width="1" height="31" fill="#000"/>
<rect x="924" y="379" width="5" height="8" fill="#000"/>
<rect x="934" y="369" width="1" height="51" fill="#000"/>
<rect x="932" y="386" width="5" height="26" fill="#000"/>
<rect x="942" y="396" width="1" height="62" fill="#000"/>
<rect x="940" y="411" width="5" height="29" fill="#000"/>
<rect x="950" y="414" width="1" height="32" fill="#000"/>
<rect x="948" y="440" width="5" height="1" fill="#000"/>
<rect x="958" y="421" width="1" height="30" fill="#000"/>
<rect x="956" y="422" width="5" height="29" fill="#000"/>
<rect x="957" y="423" width="3" height="27" fill="#fff"/>
<rect x="966" y="396" width="1" height="41" fill="#000"/>
<rect x="964" y="412" width="5" height="12" fill="#000"/>
<rect x="965" y="413" width="3" height="10" fill="#fff"/>
<rect x="974" y="399" width="1" height="61" fill="#000"/>
<rect x="972" y="411" width="5" height="32" fill="#000"/>
<rect x="982" y="432" width="1" height="88" fill="#000"/>
<rect x="980" y="439" width="5" height="59" fill="#000"/>
<rect x="990" y="482" width="1" height="69" fill="#000"/>
<rect x="988" y="498" width="5" height="12" fill="#000"/>
<rect x="998" y="508" width="1" height="55" fill="#000"/>
<rect x="996" y="508" width="5" height="2" fill="#000"/>
<rect x="1006" y="460" width="1" height="51" fill="#000"/>
<rect x="1004" y="469" width="5" height="41" fill="#000"/>
<rect x="1005" y="470" width="3" height="39" fill="#fff"/>
<rect x="1014" y="467" width="1" height="64" fill="#000"/>
<rect x="1012" y="469" width="5" height="50" fill="#000"/>
<rect x="1022" y="491" width="1" height="49" fill="#000"/>
<rect x="1020" y="493" width="5" height="25" fill="#000"/>
<rect x="1021" y="494" width="3" height="23" fill="#fff"/>
<rect x="1030" y="457" width="1" height="69" fill="#000"/>
<rect x="1028" y="494" width="5" height="28" fill="#000"/>
<rect x="1038" y="472" width="1" height="68" fill="#000"/>
<rect x="1036" y="483" width="5" height="39" fill="#000"/>
<rect x="1037" y="484" width="3" height="37" fill="#fff"/>
<rect x="1046" y="446" width="1" height="54" fill="#000"/>
<rect x="1044" y="447" width="5" height="37" fill="#000"/>
<rect x="1045" y="448" width="3" height="35" fill="#fff"/>
<rect x="1054" y="447" width="1" height="42" fill="#000"/>
<rect x="1052" y="448" width="5" height="14" fill="#000"/>
<rect x="1062" y="449" width="1" height="33" fill="#000"/>
<rect x="1060" y="460" width="5" height="6" fill="#000"/>
<rect x="1070" y="452" width="1" height="18" fill="#000"/>
<rect x="1068" y="458" width="5" height="8" fill="#000"/>
<rect x="1069" y="459" width="3" height="6" fill="#fff"/>
<rect x="1078" y="408" width="1" height="52" fill="#000"/>
<rect x="1076" y="415" width="5" height="43" fill="#000"/>
<rect x="1077" y="416" width="3" height="41" fill="#fff"/>
<rect x="1086" y="396" width="1" height="28" fill="#000"/>
<rect x="1084" y="400" width="5" height="15" fill="#000"/>
<rect x="1085" y="401" width="3" height="13" fill="#fff"/>
<rect x="1094" y="372" width="1" height="55" fill="#000"/>
<rect x="1092" y="400" width="5" height="24" fill="#000"/>
<rect x="1102" y="394" width="1" height="66" fill="#000"/>
<rect x="1100" y="395" width="5" height="28" fill="#000"/>
<rect x="1101" y="396" width="3" height="26" fill="#fff"/>
<rect x="1110" y="390" width="1" height="70" fill="#000"/>
<rect x="1108" y="395" width="5" height="47" fill="#000"/>
<rect x="1118" y="434" width="1" height="24" fill="#000"/>
<rect x="1116" y="441" width="5" height="13" fill="#000"/>
<rect x="1126" y="375" width="1" height="92" fill="#000"/>
<rect x="1124" y="424" width="5" height="31" fill="#000"/>
<rect x="1125" y="425" width="3" height="29" fill="#fff"/>
<rect x="1134" y="381" width="1" height="52" fill="#000"/>
<rect x="1132" y="386" width="5" height="39" fill="#000"/>
<rect x="1133" y="387" width="3" height="37" fill="#fff"/>
<rect x="1142" y="371" width="1" height="73" fill="#000"/>
<rect x="1140" y="387" width="5" height="39" fill="#000"/>
<rect x="1150" y="397" width="1" height="30" fill="#000"/>
<rect x="1148" y="402" width="5" height="24" fill="#000"/>
<rect x="1149" y="403" width="3" height="22" fill="#fff"/>
<rect x="1158" y="371" width="1" height="36" fill="#000"/>
<rect x="1156" y="386" width="5" height="18" fill="#000"/>
<rect x="1157" y="387" width="3" height="16" fill="#fff"/>
<rect x="1166" y="347" width="1" height="41" fill="#000"/>
<rect x="1164" y="361" width="5" height="26" fill="#000"/>
<rect x="1165" y="362" width="3" height="24" fill="#fff"/>
<rect x="1174" y="358" width="1" height="53" fill="#000"/>
<rect x="1172" y="358" width="5" height="3" fill="#000"/>
<rect x="1173" y="359" width="3" height="1" fill="#fff"/>
<rect x="1182" y="346" width="1" height="58" fill="#000"/>
<rect x="1180" y="358" width="5" height="35" fill="#000"/>
<rect x="1190" y="374" width="1" height="64" fill="#000"/>
<rect x="1188" y="392" width="5" height="32" fill="#000"/>
<rect x="1198" y="390" width="1" height="16" fill="#000"/>
<rect x="1196" y="397" width="5" height="1" fill="#000"/>
<rect x="1206" y="339" width="1" height="67" fill="#000"/>
<rect x="1204" y="348" width="5" height="50" fill="#000"/>
<rect x="1205" y="349" width="3" height="48" fill="#fff"/>
<rect x="1214" y="332" width="1" height="28" fill="#000"/>
<rect x="1212" y="333" width="5" height="16" fill="#000"/>
<rect x="1213" y="334" width="3" height="14" fill="#fff"/>
<rect x="1222" y="307" width="1" height="53" fill="#000"/>
<rect x="1220" y="334" width="5" height="26" fill="#000"/>
<rect x="1230" y="317" width="1" height="77" fill="#000"/>
<rect x="1228" y="359" width="5" height="23" fill="#000"/>
<rect x="1238" y="353" width="1" height="48" fill="#000"/>
<rect x="1236" y="367" width="5" height="15" fill="#000"/>
<rect x="1237" y="368" width="3" height="13" fill="#fff"/>
<rect x="1246" y="357" width="1" height="20" fill="#000"/>
<rect x="1244" y="366" width="5" height="2" fill="#000"/>
<rect x="1254" y="361" width="1" height="32" fill="#000"/>
<rect x="1252" y="362" width="5" height="28" fill="#000"/>
<rect x="1262" y="347" width="1" height="49" fill="#000"/>
<rect x="1260" y="350" width="5" height="41" fill="#000"/>
<rect x="1261" y="351" width="3" height="39" fill="#fff"/>
<rect x="1270" y="338" width="1" height="39" fill="#000"/>
<rect x="1268" y="350" width="5" height="27" fill="#000"/>
<rect x="1278" y="320" width="1" height="72" fill="#000"/>
<rect x="1276" y="338" width="5" height="39" fill="#000"/>
<rect x="1277" y="339" width="3" height="37" fill="#fff"/>
<rect x="1286" y="331" width="1" height="37" fill="#000"/>
<rect x="1284" y="336" width="5" height="2" fill="#000"/>
<rect x="1294" y="320" width="1" height="22" fill="#000"/>
<rect x="1292" y="324" width="5" height="15" fill="#000"/>
<rect x="1293" y="325" width="3" height="13" fill="#fff"/>
<rect x="1302" y="318" width="1" height="20" fill="#000"/>
<rect x="1300" y="323" width="5" height="2" fill="#000"/>
<rect x="1310" y="320" width="1" height="18" fill="#000"/>
<rect x="1308" y="324" width="5" height="3" fill="#000"/>
<rect x="1318" y="320" width="1" height="43" fill="#000"/>
<rect x="1316" y="326" width="5" height="8" fill="#000"/>
<rect x="1326" y="314" width="1" height="44" fill="#000"/>
<rect x="1324" y="325" width="5" height="9" fill="#000"/>
<rect x="1325" y="326" width="3" height="7" fill="#fff"/>
<rect x="1334" y="297" width="1" height="43" fill="#000"/>
<rect x="1332" y="302" width="5" height="24" fill="#000"/>
<rect x="1333" y="303" width="3" height="22" fill="#fff"/>
<rect x="1342" y="298" width="1" height="32" fill="#000"/>
<rect x="1340" y="302" width="5" height="24" fill="#000"/>
<rect x="1350" y="315" width="1" height="22" fill="#000"/>
<rect x="1348" y="320" width="5" height="7" fill="#000"/>
<rect x="1349" y="321" width="3" height="5" fill="#fff"/>
<rect x="1358" y="304" width="1" height="23" fill="#000"/>
<rect x="1356" y="305" width="5" height="16" fill="#000"/>
<rect x="1357" y="306" width="3" height="14" fill="#fff"/>
<rect x="1366" y="257" width="1" height="51" fill="#000"/>
<rect x="1364" y="261" width="5" height="45" fill="#000"/>
<rect x="1365" y="262" width="3" height="43" fill="#fff"/>
<rect x="1374" y="184" width="1" height="100" fill="#000"/>
<rect x="1372" y="199" width="5" height="63" fill="#000"/>
<rect x="1373" y="200" width="3" height="61" fill="#fff"/>
<rect x="1382" y="184" width="1" height="46" fill="#000"/>
<rect x="1380" y="197" width="5" height="26" fill="#000"/>
<rect x="1390" y="195" width="1" height="28" fill="#000"/>
<rect x="1388" y="203" width="5" height="20" fill="#000"/>
<rect x="1389" y="204" width="3" height="18" fill="#fff"/>
<rect x="1398" y="183" width="1" height="40" fill="#000"/>
<rect x="1396" y="196" width="5" height="27" fill="#000"/>
<rect x="1397" y="197" width="3" height="25" fill="#fff"/>
<rect x="1406" y="195" width="1" height="20" fill="#000"/>
<rect x="1404" y="197" width="5" height="6" fill="#000"/>
<rect x="1414" y="189" width="1" height="79" fill="#000"/>
<rect x="1412" y="202" width="5" height="45" fill="#000"/>
<rect x="1422" y="227" width="1" height="56" fill="#000"/>
<rect x="1420" y="240" width="5" height="7" fill="#000"/>
<rect x="1421" y="241" width="3" height="5" fill="#fff"/>
<rect x="1430" y="226" width="1" height="25" fill="#000"/>
<rect x="1428" y="240" width="5" height="6" fill="#000"/>
<rect x="0" y="526" width="1" height="1" fill="#000"/>
<rect x="6" y="597" width="1" height="70" fill="#c0c0c0"/>
<rect x="14" y="599" width="1" height="68" fill="#c0c0c0"/>
<rect x="22" y="599" width="1" height="68" fill="#c0c0c0"/>
<rect x="30" y="596" width="1" height="71" fill="#c0c0c0"/>
<rect x="38" y="594" width="1" height="73" fill="#c0c0c0"/>
<rect x="46" y="593" width="1" height="74" fill="#c0c0c0"/>
<rect x="54" y="592" width="1" height="75" fill="#c0c0c0"/>
<rect x="62" y="592" width="1" height="75" fill="#c0c0c0"/>
<rect x="70" y="593" width="1" height="74" fill="#c0c0c0"/>
<rect x="78" y="595" width="1" height="72" fill="#c0c0c0"/>
<rect x="86" y="599" width="1" height="68" fill="#c0c0c0"/>
<rect x="94" y="602" width="1" height="65" fill="#c0c0c0"/>
<rect x="102" y="605" width="1" height="62" fill="#c0c0c0"/>
<rect x="110" y="608" width="1" height="59" fill="#c0c0c0"/>
<rect x="118" y="609" width="1" height="58" fill="#c0c0c0"/>
<rect x="126" y="606" width="1" height="61" fill="#c0c0c0"/>
<rect x="134" y="603" width="1" height="64" fill="#c0c0c0"/>
<rect x="142" y="602" width="1" height="65" fill="#c0c0c0"/>
<rect x="150" y="600" width="1" height="67" fill="#c0c0c0"/>
<rect x="158" y="600" width="1" height="67" fill="#c0c0c0"/>
<rect x="166" y="600" width="1" height="67" fill="#c0c0c0"/>
<rect x="174" y="599" width="1" height="68" fill="#c0c0c0"/>
<rect x="182" y="599" width="1" height="68" fill="#c0c0c0"/>
<rect x="190" y="601" width="1" height="66" fill="#c0c0c0"/>
<rect x="198" y="603" width="1" height="64" fill="#c0c0c0"/>
<rect x="206" y="603" width="1" height="64" fill="#c0c0c0"/>
<rect x="214" y="608" width="1" height="59" fill="#c0c0c0"/>
<rect x="222" y="605" width="1" height="62" fill="#c0c0c0"/>
<rect x="230" y="605" width="1" height="62" fill="#c0c0c0"/>
<rect x="238" y="606" width="1" height="61" fill="#c0c0c0"/>
<rect x="246" y="609" width="1" height="58" fill="#c0c0c0"/>
<rect x="254" y="611" width="1" height="56" fill="#c0c0c0"/>
<rect x="262" y="615" width="1" height="52" fill="#c0c0c0"/>
<rect x="270" y="623" width="1" height="44" fill="#c0c0c0"/>
<rect x="278" y="625" width="1" height="42" fill="#c0c0c0"/>
<rect x="286" y="627" width="1" height="40" fill="#c0c0c0"/>
<rect x="294" y="627" width="1" height="40" fill="#c0c0c0"/>
<rect x="302" y="624" width="1" height="43" fill="#c0c0c0"/>
<rect x="310" y="617" width="1" height="50" fill="#c0c0c0"/>
<rect x="318" y="605" width="1" height="62" fill="#c0c0c0"/>
<rect x="326" y="600" width="1" height="67" fill="#c0c0c0"/>
<rect x="334" y="596" width="1" height="71" fill="#c0c0c0"/>
<rect x="342" y="595" width="1" height="72" fill="#c0c0c0"/>
<rect x="350" y="595" width="1" height="72" fill="#c0c0c0"/>
<rect x="358" y="599" width="1" height="68" fill="#c0c0c0"/>
<rect x="366" y="599" width="1" height="68" fill="#c0c0c0"/>
<rect x="374" y="596" width="1" height="71" fill="#c0c0c0"/>
<rect x="382" y="597" width="1" height="70" fill="#c0c0c0"/>
<rect x="390" y="601" width="1" height="66" fill="#c0c0c0"/>
<rect x="398" y="610" width="1" height="57" fill="#c0c0c0"/>
<rect x="406" y="615" width="1" height="52" fill="#c0c0c0"/>
<rect x="414" y="621" width="1" height="46" fill="#c0c0c0"/>
<rect x="422" y="623" width="1" height="44" fill="#c0c0c0"/>
<rect x="430" y="626" width="1" height="41" fill="#c0c0c0"/>
<rect x="438" y="627" width="1" height="40" fill="#c0c0c0"/>
<rect x="446" y="629" width="1" height="38" fill="#c0c0c0"/>
<rect x="454" y="631" width="1" height="36" fill="#c0c0c0"/>
<rect x="462" y="633" width="1" height="34" fill="#c0c0c0"/>
<rect x="470" y="633" width="1" height="34" fill="#c0c0c0"/>
<rect x="478" y="633" width="1" height="34" fill="#c0c0c0"/>
<rect x="486" y="632" width="1" height="35" fill="#c0c0c0"/>
<rect x="494" y="632" width="1" height="35" fill="#c0c0c0"/>
<rect x="502" y="638" width="1" height="29" fill="#c0c0c0"/>
<rect x="510" y="648" width="1" height="19" fill="#c0c0c0"/>
<rect x="518" y="654" width="1" height="13" fill="#c0c0c0"/>
<rect x="526" y="657" width="1" height="10" fill="#c0c0c0"/>
<rect x="534" y="657" width="1" height="10" fill="#c0c0c0"/>
<rect x="542" y="658" width="1" height="9" fill="#c0c0c0"/>
<rect x="550" y="658" width="1" height="9" fill="#c0c0c0"/>
<rect x="558" y="656" width="1" height="11" fill="#c0c0c0"/>
<rect x="566" y="652" width="1" height="15" fill="#c0c0c0"/>
<rect x="574" y="651" width="1" height="16" fill="#c0c0c0"/>
<rect x="582" y="647" width="1" height="20" fill="#c0c0c0"/>
<rect x="590" y="646" width="1" height="21" fill="#c0c0c0"/>
<rect x="598" y="645" width="1" height="22" fill="#c0c0c0"/>
<rect x="606" y="645" width="1" height="22" fill="#c0c0c0"/>
<rect x="614" y="649" width="1" height="18" fill="#c0c0c0"/>
<rect x="622" y="650" width="1" height="17" fill="#c0c0c0"/>
<rect x="630" y="651" width="1" height="16" fill="#c0c0c0"/>
<rect x="638" y="652" width="1" height="15" fill="#c0c0c0"/>
<rect x="646" y="652" width="1" height="15" fill="#c0c0c0"/>
<rect x="654" y="656" width="1" height="11" fill="#c0c0c0"/>
<rect x="662" y="662" width="1" height="5" fill="#c0c0c0"/>
<rect x="678" y="666" width="1" height="8" fill="#c0c0c0"/>
<rect x="686" y="666" width="1" height="12" fill="#c0c0c0"/>
<rect x="694" y="666" width="1" height="15" fill="#c0c0c0"/>
<rect x="702" y="666" width="1" height="23" fill="#c0c0c0"/>
<rect x="710" y="666" width="1" height="24" fill="#c0c0c0"/>
<rect x="718" y="666" width="1" height="23" fill="#c0c0c0"/>
<rect x="726" y="666" width="1" height="21" fill="#c0c0c0"/>
<rect x="734" y="666" width="1" height="17" fill="#c0c0c0"/>
<rect x="742" y="666" width="1" height="16" fill="#c0c0c0"/>
<rect x="750" y="666" width="1" height="15" fill="#c0c0c0"/>
<rect x="758" y="666" width="1" height="15" fill="#c0c0c0"/>
<rect x="766" y="666" width="1" height="15" fill="#c0c0c0"/>
<rect x="774" y="666" width="1" height="11" fill="#c0c0c0"/>
<rect x="782" y="666" width="1" height="8" fill="#c0c0c0"/>
<rect x="790" y="666" width="1" height="12" fill="#c0c0c0"/>
<rect x="798" y="666" width="1" height="18" fill="#c0c0c0"/>
<rect x="806" y="666" width="1" height="21" fill="#c0c0c0"/>
<rect x="814" y="666" width="1" height="23" fill="#c0c0c0"/>
<rect x="822" y="666" width="1" height="25" fill="#c0c0c0"/>
<rect x="830" y="666" width="1" height="29" fill="#c0c0c0"/>
<rect x="838" y="666" width="1" height="26" fill="#c0c0c0"/>
<rect x="846" y="666" width="1" height="26" fill="#c0c0c0"/>
<rect x="854" y="666" width="1" height="27" fill="#c0c0c0"/>
<rect x="862" y="666" width="1" height="28" fill="#c0c0c0"/>
<rect x="870" y="666" width="1" height="25" fill="#c0c0c0"/>
<rect x="878" y="666" width="1" height="23" fill="#c0c0c0"/>
<rect x="886" y="666" width="1" height="25" fill="#c0c0c0"/>
<rect x="894" y="666" width="1" height="27" fill="#c0c0c0"/>
<rect x="902" y="666" width="1" height="29" fill="#c0c0c0"/>
<rect x="910" y="666" width="1" height="32" fill="#c0c0c0"/>
<rect x="918" y="666" width="1" height="39" fill="#c0c0c0"/>
<rect x="926" y="666" width="1" height="43" fill="#c0c0c0"/>
<rect x="934" y="666" width="1" height="50" fill="#c0c0c0"/>
<rect x="942" y="666" width="1" height="56" fill="#c0c0c0"/>
<rect x="950" y="666" width="1" height="61" fill="#c0c0c0"/>
<rect x="958" y="666" width="1" height="62" fill="#c0c0c0"/>
<rect x="966" y="666" width="1" height="61" fill="#c0c0c0"/>
<rect x="974" y="666" width="1" height="63" fill="#c0c0c0"/>
<rect x="982" y="666" width="1" height="68" fill="#c0c0c0"/>
<rect x="990" y="666" width="1" height="72" fill="#c0c0c0"/>
<rect x="998" y="666" width="1" height="75" fill="#c0c0c0"/>
<rect x="1006" y="666" width="1" height="73" fill="#c0c0c0"/>
<rect x="1014" y="666" width="1" height="74" fill="#c0c0c0"/>
<rect x="1022" y="666" width="1" height="73" fill="#c0c0c0"/>
<rect x="1030" y="666" width="1" height="73" fill="#c0c0c0"/>
<rect x="1038" y="666" width="1" height="69" fill="#c0c0c0"/>
<rect x="1046" y="666" width="1" height="62" fill="#c0c0c0"/>
<rect x="1054" y="666" width="1" height="57" fill="#c0c0c0"/>
<rect x="1062" y="666" width="1" height="53" fill="#c0c0c0"/>
<rect x="1070" y="666" width="1" height="48" fill="#c0c0c0"/>
<rect x="1078" y="666" width="1" height="41" fill="#c0c0c0"/>
<rect x="1086" y="666" width="1" height="33" fill="#c0c0c0"/>
<rect x="1094" y="666" width="1" height="28" fill="#c0c0c0"/>
<rect x="1102" y="666" width="1" height="22" fill="#c0c0c0"/>
<rect x="1110" y="666" width="1" height="21" fill="#c0c0c0"/>
<rect x="1118" y="666" width="1" height="21" fill="#c0c0c0"/>
<rect x="1126" y="666" width="1" height="18" fill="#c0c0c0"/>
<rect x="1134" y="666" width="1" height="12" fill="#c0c0c0"/>
<rect x="1142" y="666" width="1" height="11" fill="#c0c0c0"/>
<rect x="1150" y="666" width="1" height="8" fill="#c0c0c0"/>
<rect x="1158" y="666" width="1" height="3" fill="#c0c0c0"/>
<rect x="1166" y="665" width="1" height="2" fill="#c0c0c0"/>
<rect x="1174" y="661" width="1" height="6" fill="#c0c0c0"/>
<rect x="1182" y="660" width="1" height="7" fill="#c0c0c0"/>
<rect x="1190" y="663" width="1" height="4" fill="#c0c0c0"/>
<rect x="1198" y="662" width="1" height="5" fill="#c0c0c0"/>
<rect x="1206" y="658" width="1" height="9" fill="#c0c0c0"/>
<rect x="1214" y="653" width="1" height="14" fill="#c0c0c0"/>
<rect x="1222" y="652" width="1" height="15" fill="#c0c0c0"/>
<rect x="1230" y="653" width="1" height="14" fill="#c0c0c0"/>
<rect x="1238" y="653" width="1" height="14" fill="#c0c0c0"/>
<rect x="1246" y="654" width="1" height="13" fill="#c0c0c0"/>
<rect x="1254" y="654" width="1" height="13" fill="#c0c0c0"/>
<rect x="1262" y="653" width="1" height="14" fill="#c0c0c0"/>
<rect x="1270" y="653" width="1" height="14" fill="#c0c0c0"/>
<rect x="1278" y="651" width="1" height="16" fill="#c0c0c0"/>
<rect x="1286" y="650" width="1" height="17" fill="#c0c0c0"/>
<rect x="1294" y="648" width="1" height="19" fill="#c0c0c0"/>
<rect x="1302" y="646" width="1" height="21" fill="#c0c0c0"/>
<rect x="1310" y="646" width="1" height="21" fill="#c0c0c0"/>
<rect x="1318" y="646" width="1" height="21" fill="#c0c0c0"/>
<rect x="1326" y="646" width="1" height="21" fill="#c0c0c0"/>
<rect x="1334" y="644" width="1" height="23" fill="#c0c0c0"/>
<rect x="1342" y="644" width="1" height="23" fill="#c0c0c0"/>
<rect x="1350" y="645" width="1" height="22" fill="#c0c0c0"/>
<rect x="1358" y="644" width="1" height="23" fill="#c0c0c0"/>
<rect x="1366" y="640" width="1" height="27" fill="#c0c0c0"/>
<rect x="1374" y="632" width="1" height="35" fill="#c0c0c0"/>
<rect x="1382" y="627" width="1" height="40" fill="#c0c0c0"/>
<rect x="1390" y="623" width="1" height="44" fill="#c0c0c0"/>
<rect x="1398" y="619" width="1" height="48" fill="#c0c0c0"/>
<rect x="1406" y="618" width="1" height="49" fill="#c0c0c0"/>
<rect x="1414" y="621" width="1" height="46" fill="#c0c0c0"/>
<rect x="1422" y="623" width="1" height="44" fill="#c0c0c0"/>
<rect x="1430" y="624" width="1" height="43" fill="#c0c0c0"/>
<polyline points="0.5,588 12.5,588.5 20.5,590.5 25.5,592 38,594 50.5,594.5 75.5,594 98,593.5 108,596.5 123,600.5 140.5,602.5 150.5,603.5 163,603.5 175.5,602.5 188,601 215.5,600.5 225.5,602 243,602.5 250.5,605.5 265.5,607.5 280.5,612 295.5,615.5 310.5,619.5 320.5,619 333,615.5 343,613.5 358,606 368,602.5 380.5,597.5 390.5,596.5 398,597.5 408,601.5 415.5,602.5 425.5,607.5 438,612.5 450.5,619 463,624.5 475.5,627.5 485.5,629.5 500.5,631.5 510.5,634 518,636 528,640.5 540.5,644 553,649 563,652 573,654 590.5,653.5 598,651.5 608,650.5 615.5,649.5 630.5,649 638,647.5 648,648.5 663,650.5 670.5,654 685.5,659 695.5,664 708,670.5 720.5,676.5 730.5,681 740.5,682.5 748,684.5 765.5,684.5 780.5,682.5 790.5,680.5 805.5,680.5 815.5,682.5 833,684 845.5,685.5 855.5,689 868,691.5 888,692 895.5,692.5 903,691.5 913,692.5 928,696.5 940.5,700.5 953,706.5 965.5,712.5 978,719.5 990.5,725.5 1000.5,728.5 1008,732.5 1020.5,734 1030.5,735.5 1040.5,736.5 1050.5,736 1060.5,734 1070.5,730.5 1083,724 1095.5,717.5 1108,707.5 1120.5,700.5 1133,693.5 1145.5,686.5 1155.5,683.5 1168,678.5 1178,674 1188,671.5 1198,667.5 1202,665.2 1213.5,662.9 1223.9,659.1 1238.5,656.2 1256.1,655.5 1270.8,653.5 1288.4,652.5 1303,651.8 1317.5,649.7 1329.4,648.2 1344,646.2 1358.5,645.9 1370.5,644.5 1379.1,641.5 1390.5,637.1 1399.5,635.1 1408.5,630.5 1417.2,628.5 1431.5,624.8" fill="none" stroke="#ff0000" stroke-width="1" stroke-dasharray="3 3"/>
<line x1="3" y1="786.5" x2="1649" y2="786.5" stroke="#c0c0c0" stroke-width="1" stroke-dasharray="3 3"/>
<line x1="3" y1="837.5" x2="1649" y2="837.5" stroke="#c0c0c0" stroke-width="1" stroke-dasharray="3 3"/>
<line x1="3" y1="898.5" x2="1649" y2="898.5" stroke="#c0c0c0" stroke-width="1" stroke-dasharray="3 3"/>
<polyline points="0,807.5 6.5,804.1 14.5,802.8 22.5,799.7 30.5,791.5 38.5,787.5 46.5,794.8 54.5,794.8 62.5,797.9 70.5,792.7 78.5,813.8 86.5,811.8 94.5,810.7 102.5,809.1 110.5,810.1 118.5,805.5 126.5,794.1 134.5,792.7 142.5,791.6 150.5,791.6 158.5,795.8 166.5,792.7 174.5,788.9 182.5,790 190.5,798.3 198.5,796.8 206.5,792.7 214.5,814.9 222.5,797.9 230.5,806.5 238.5,808.7 246.5,812.8 254.5,809.7 262.5,820.1 270.5,837.1 278.5,823.5 286.5,824.8 294.5,815.9 302.5,810.7 310.5,800.4 318.5,792.1 326.5,800.8 334.5,799.7 342.5,807 350.5,806 358.5,820.1 366.5,811.8 374.5,804.5 382.5,808.7 390.5,824.2 398.5,834.6 406.5,828.8 414.5,832.5 422.5,827.9 430.5,827.7 438.5,824.8 446.5,826.9 454.5,826.9 462.5,825.7 470.5,821.7 478.5,820.7 486.5,817.6 494.5,816.5 502.5,839.8 510.5,852.8 518.5,846 526.5,841.4 534.5,834 542.5,837.1 550.5,834.6 558.5,826.9 566.5,823.8 574.5,823.8 582.5,819 590.5,823.8 598.5,822.8 606.5,827.7 614.5,839.8 622.5,829.8 630.5,834 638.5,832.5 646.5,829.8 654.5,844.5 662.5,851.6 670.5,851.6 678.5,862 686.5,859.1 694.5,855.7 702.5,868.8 710.5,852.2 718.5,848.1 726.5,840.8 734.5,839.8 742.5,843.9 750.5,842.9 758.5,846 766.5,844.5 774.5,832.9 782.5,831.9 790.5,853.7 798.5,864 806.5,853.9 814.5,855.7 822.5,855.9 830.5,863 838.5,843.9 846.5,848.7 854.5,852.8 862.5,853.9 870.5,845.6 878.5,845.6 886.5,854.9 894.5,850.1 902.5,855.3 910.5,864.7 918.5,870.9 926.5,871.9 934.5,875.7 942.5,879.8 950.5,879.8 958.5,872.5 966.5,867.8 974.5,874 982.5,881.7 990.5,883.9 998.5,882.9 1006.5,867.8 1014.5,876.1 1022.5,866.7 1030.5,870.9 1038.5,858.4 1046.5,849.1 1054.5,851.6 1062.5,852.8 1070.5,850.1 1078.5,837.1 1086.5,833.5 1094.5,839.4 1102.5,832.9 1110.5,844.5 1118.5,848.1 1126.5,839.4 1134.5,830.8 1142.5,839.8 1150.5,834.6 1158.5,830.4 1166.5,825.9 1174.5,824.6 1182.5,834.6 1190.5,842.9 1198.5,836.7 1206.5,824.8 1214.5,821.5 1222.5,830 1230.5,835 1238.5,831.9 1246.5,831.9 1254.5,837.7 1262.5,828.8 1270.5,836 1278.5,826.9 1286.5,826.9 1294.5,824 1302.5,824 1310.5,824.9 1318.5,826.9 1326.5,824.9 1334.5,818.1 1342.5,827.8 1350.5,825.5 1358.5,821.5 1366.5,810.8 1374.5,799.1 1382.5,805.8 1390.5,803.5 1398.5,802.5 1406.5,803.5 1414.5,823.1 1422.5,821.5 1430.5,823.1" fill="none" stroke="#1e90ff" stroke-width="1" />
<rect x="0" y="23" width="1650" height="1" fill="#000"/>
<rect x="1649" y="23" width="1" height="902" fill="#000"/>
<rect x="0" y="576" width="1650" height="1" fill="#000"/>
<rect x="0" y="578" width="1650" height="1" fill="#000"/>
<rect x="0" y="748" width="1650" height="1" fill="#000"/>
<rect x="0" y="750" width="1650" height="1" fill="#000"/>
<rect x="0" y="924" width="1650" height="1" fill="#000"/>
<rect x="0" y="577" width="1650" height="1" fill="#fff"/>
<rect x="0" y="749" width="1650" height="1" fill="#fff"/>
<polygon points="1411,24 1420,24 1415.5,28.7" fill="#c0c0c0" shape-rendering="auto"/>
<rect x="1364" y="218" width="167" height="9" fill="#00ff00"/>
<line x1="1297.0" y1="366.0" x2="1382.9" y2="199.9" stroke="#ff0000" stroke-width="3.5" shape-rendering="auto"/>
<polygon points="1387.5,191.0 1387.3,203.3 1377.6,198.2" fill="#ff0000" shape-rendering="auto"/>
<line x1="1390.0" y1="189.0" x2="1436.8" y2="266.0" stroke="#ff0000" stroke-width="3.3" shape-rendering="auto"/>
<polygon points="1442.0,274.5 1431.6,268.0 1441.0,262.2" fill="#ff0000" shape-rendering="auto"/>
<line x1="1402.7" y1="603.0" x2="1430.3" y2="619.8" stroke="#ff0000" stroke-width="3" shape-rendering="auto"/>
<polygon points="1438.0,624.5 1427.1,623.1 1431.8,615.5" fill="#ff0000" shape-rendering="auto"/>
<line x1="1370.0" y1="782.0" x2="1421.6" y2="810.6" stroke="#ff0000" stroke-width="3" shape-rendering="auto"/>
<polygon points="1429.5,815.0 1418.6,814.1 1422.9,806.2" fill="#ff0000" shape-rendering="auto"/>
<rect x="303" y="44" width="62" height="18" fill="#ff0000"/>
<rect x="304" y="45" width="60" height="16" fill="#fff"/>
<rect x="365" y="52" width="10" height="1" fill="#ff0000"/>
<rect x="927" y="554" width="62" height="19" fill="#ff0000"/>
<rect x="928" y="555" width="60" height="17" fill="#fff"/>
<rect x="989" y="563" width="10" height="1" fill="#ff0000"/>
<rect x="1311" y="175" width="62" height="19" fill="#ff0000"/>
<rect x="1312" y="176" width="60" height="17" fill="#fff"/>
<rect x="1373" y="184" width="10" height="1" fill="#ff0000"/>
<rect x="1241" y="212" width="74" height="25" fill="#ff0000"/>
<rect x="1242" y="213" width="72" height="23" fill="#fff"/>
<rect x="1231" y="224" width="10" height="1" fill="#ff0000"/>
<rect x="1650" y="45" width="2" height="1" fill="#000"/>
<rect x="1650" y="78" width="2" height="1" fill="#000"/>
<rect x="1650" y="111" width="2" height="1" fill="#000"/>
<rect x="1650" y="144" width="2" height="1" fill="#000"/>
<rect x="1650" y="177" width="2" height="1" fill="#000"/>
<rect x="1650" y="210" width="2" height="1" fill="#000"/>
<rect x="1650" y="243" width="2" height="1" fill="#000"/>
<rect x="1650" y="276" width="2" height="1" fill="#000"/>
<rect x="1650" y="309" width="2" height="1" fill="#000"/>
<rect x="1650" y="342" width="2" height="1" fill="#000"/>
<rect x="1650" y="375" width="2" height="1" fill="#000"/>
<rect x="1650" y="408" width="2" height="1" fill="#000"/>
<rect x="1650" y="441" width="2" height="1" fill="#000"/>
<rect x="1650" y="474" width="2" height="1" fill="#000"/>
<rect x="1650" y="507" width="2" height="1" fill="#000"/>
<rect x="1650" y="540" width="2" height="1" fill="#000"/>
<rect x="1650" y="573" width="2" height="1" fill="#000"/>
<rect x="1644" y="170" width="5" height="5" fill="#ff0000"/>
<rect x="1645" y="171" width="3" height="3" fill="#fff"/>
<rect x="1644" y="194" width="5" height="5" fill="#ff0000"/>
<rect x="1645" y="195" width="3" height="3" fill="#fff"/>
<rect x="1644" y="272" width="5" height="5" fill="#0000ff"/>
<rect x="1645" y="273" width="3" height="3" fill="#fff"/>
<rect x="1644" y="301" width="5" height="5" fill="#0000ff"/>
<rect x="1645" y="302" width="3" height="3" fill="#fff"/>
<rect x="1650" y="580" width="2" height="1" fill="#000"/>
<rect x="1650" y="666" width="2" height="1" fill="#000"/>
<rect x="1650" y="752" width="2" height="1" fill="#000"/>
<rect x="54" y="925" width="1" height="3" fill="#000"/>
<rect x="118" y="925" width="1" height="3" fill="#000"/>
<rect x="182" y="925" width="1" height="3" fill="#000"/>
<rect x="246" y="925" width="1" height="3" fill="#000"/>
<rect x="310" y="925" width="1" height="3" fill="#000"/>
<rect x="374" y="925" width="1" height="3" fill="#000"/>
<rect x="438" y="925" width="1" height="3" fill="#000"/>
<rect x="502" y="925" width="1" height="3" fill="#000"/>
<rect x="566" y="925" width="1" height="3" fill="#000"/>
<rect x="630" y="925" width="1" height="3" fill="#000"/>
<rect x="694" y="925" width="1" height="3" fill="#000"/>
<rect x="758" y="925" width="1" height="3" fill="#000"/>
<rect x="822" y="925" width="1" height="3" fill="#000"/>
<rect x="886" y="925" width="1" height="3" fill="#000"/>
<rect x="950" y="925" width="1" height="3" fill="#000"/>
<rect x="1014" y="925" width="1" height="3" fill="#000"/>
<rect x="1078" y="925" width="1" height="3" fill="#000"/>
<rect x="1142" y="925" width="1" height="3" fill="#000"/>
<rect x="1206" y="925" width="1" height="3" fill="#000"/>
<rect x="1270" y="925" width="1" height="3" fill="#000"/>
<rect x="1334" y="925" width="1" height="3" fill="#000"/>
<rect x="1398" y="925" width="1" height="3" fill="#000"/>
<path d="M49.5 121l1.5 1.5l-1.5 1.5l-1.5-1.5z" fill="#fff" stroke="#000" stroke-width="1" shape-rendering="auto"/>
</svg>
<div class="t" style="left:306.5px;top:46.36px;font-size:16px;line-height:16px;color:#ff0000;letter-spacing:-0.2px;">157.738</div>
<div class="t" style="left:930.5px;top:557.26px;font-size:16px;line-height:16px;color:#ff0000;letter-spacing:-0.2px;">152.883</div>
<div class="t" style="left:1314.5px;top:178.16px;font-size:16px;line-height:16px;color:#ff0000;letter-spacing:-0.2px;">156.481</div>
<div class="t" style="left:1243px;top:214.22px;font-size:22px;line-height:22px;color:#ff0000;letter-spacing:-1.25px;">156.101</div>
<div class="t" style="left:1655px;top:41.10px;font-size:10px;line-height:10px;color:#000;letter-spacing:-0.4px;">157.805</div>
<div class="t" style="left:1655px;top:74.10px;font-size:10px;line-height:10px;color:#000;letter-spacing:-0.4px;">157.490</div>
<div class="t" style="left:1655px;top:107.10px;font-size:10px;line-height:10px;color:#000;letter-spacing:-0.4px;">157.175</div>
<div class="t" style="left:1655px;top:140.10px;font-size:10px;line-height:10px;color:#000;letter-spacing:-0.4px;">156.860</div>
<div class="t" style="left:1655px;top:173.10px;font-size:10px;line-height:10px;color:#000;letter-spacing:-0.4px;">156.545</div>
<div class="t" style="left:1655px;top:206.10px;font-size:10px;line-height:10px;color:#000;letter-spacing:-0.4px;">156.235</div>
<div class="t" style="left:1655px;top:239.10px;font-size:10px;line-height:10px;color:#000;letter-spacing:-0.4px;">155.920</div>
<div class="t" style="left:1655px;top:272.10px;font-size:10px;line-height:10px;color:#000;letter-spacing:-0.4px;">155.605</div>
<div class="t" style="left:1655px;top:305.10px;font-size:10px;line-height:10px;color:#000;letter-spacing:-0.4px;">155.290</div>
<div class="t" style="left:1655px;top:338.10px;font-size:10px;line-height:10px;color:#000;letter-spacing:-0.4px;">154.980</div>
<div class="t" style="left:1655px;top:371.10px;font-size:10px;line-height:10px;color:#000;letter-spacing:-0.4px;">154.665</div>
<div class="t" style="left:1655px;top:404.10px;font-size:10px;line-height:10px;color:#000;letter-spacing:-0.4px;">154.350</div>
<div class="t" style="left:1655px;top:437.10px;font-size:10px;line-height:10px;color:#000;letter-spacing:-0.4px;">154.035</div>
<div class="t" style="left:1655px;top:470.10px;font-size:10px;line-height:10px;color:#000;letter-spacing:-0.4px;">153.725</div>
<div class="t" style="left:1655px;top:503.10px;font-size:10px;line-height:10px;color:#000;letter-spacing:-0.4px;">153.410</div>
<div class="t" style="left:1655px;top:536.10px;font-size:10px;line-height:10px;color:#000;letter-spacing:-0.4px;">153.095</div>
<div class="t" style="left:1655px;top:569.10px;font-size:10px;line-height:10px;color:#000;letter-spacing:-0.4px;">152.780</div>
<div class="bl" style="left:1651px;top:166px;width:41px;height:11px;background:#ff0000;"></div>
<div class="t" style="left:1655px;top:167.40px;font-size:10px;line-height:10px;color:#fff;letter-spacing:-0.4px;">156.595</div>
<div class="bl" style="left:1651px;top:190px;width:41px;height:11px;background:#ff0000;"></div>
<div class="t" style="left:1655px;top:191.40px;font-size:10px;line-height:10px;color:#fff;letter-spacing:-0.4px;">156.367</div>
<div class="bl" style="left:1651px;top:218px;width:41px;height:11px;background:#32cd32;"></div>
<div class="t" style="left:1655px;top:219.40px;font-size:10px;line-height:10px;color:#fff;letter-spacing:-0.4px;">156.101</div>
<div class="bl" style="left:1651px;top:239px;width:41px;height:11px;background:#000000;"></div>
<div class="t" style="left:1655px;top:240.40px;font-size:10px;line-height:10px;color:#fff;letter-spacing:-0.4px;">155.915</div>
<div class="bl" style="left:1651px;top:268px;width:41px;height:11px;background:#0000ff;"></div>
<div class="t" style="left:1655px;top:269.40px;font-size:10px;line-height:10px;color:#fff;letter-spacing:-0.4px;">155.627</div>
<div class="bl" style="left:1651px;top:297px;width:41px;height:11px;background:#0000ff;"></div>
<div class="t" style="left:1655px;top:298.40px;font-size:10px;line-height:10px;color:#fff;letter-spacing:-0.4px;">155.352</div>
<div class="t" style="left:1653px;top:581.80px;font-size:10px;line-height:10px;color:#000;letter-spacing:-0.4px;">0.757</div>
<div class="t" style="left:1653px;top:662.70px;font-size:10px;line-height:10px;color:#000;letter-spacing:-0.4px;">0.00</div>
<div class="t" style="left:1653px;top:737.90px;font-size:10px;line-height:10px;color:#000;letter-spacing:-0.4px;">-0.7201</div>
<div class="t" style="left:1653px;top:753.60px;font-size:10px;line-height:10px;color:#000;letter-spacing:-0.4px;">100</div>
<div class="t" style="left:1653px;top:782.40px;font-size:10px;line-height:10px;color:#000;letter-spacing:-0.4px;">80</div>
<div class="t" style="left:1653px;top:833.20px;font-size:10px;line-height:10px;color:#000;letter-spacing:-0.4px;">50</div>
<div class="t" style="left:1653px;top:894.50px;font-size:10px;line-height:10px;color:#000;letter-spacing:-0.4px;">15</div>
<div class="t" style="left:1653px;top:913.50px;font-size:10px;line-height:10px;color:#000;letter-spacing:-0.4px;">0</div>
<div class="t" style="left:53px;top:929.80px;font-size:10px;line-height:10px;color:#000;letter-spacing:-0.4px;">28 Dec 00:00</div>
<div class="t" style="left:117px;top:929.80px;font-size:10px;line-height:10px;color:#000;letter-spacing:-0.4px;">29 Dec 08:00</div>
<div class="t" style="left:181px;top:929.80px;font-size:10px;line-height:10px;color:#000;letter-spacing:-0.4px;">30 Dec 16:00</div>
<div class="t" style="left:245px;top:929.80px;font-size:10px;line-height:10px;color:#000;letter-spacing:-0.4px;">3 Jan 00:00</div>
<div class="t" style="left:309px;top:929.80px;font-size:10px;line-height:10px;color:#000;letter-spacing:-0.4px;">4 Jan 08:00</div>
<div class="t" style="left:373px;top:929.80px;font-size:10px;line-height:10px;color:#000;letter-spacing:-0.4px;">5 Jan 16:00</div>
<div class="t" style="left:437px;top:929.80px;font-size:10px;line-height:10px;color:#000;letter-spacing:-0.4px;">7 Jan 00:00</div>
<div class="t" style="left:501px;top:929.80px;font-size:10px;line-height:10px;color:#000;letter-spacing:-0.4px;">10 Jan 08:00</div>
<div class="t" style="left:565px;top:929.80px;font-size:10px;line-height:10px;color:#000;letter-spacing:-0.4px;">11 Jan 16:00</div>
<div class="t" style="left:629px;top:929.80px;font-size:10px;line-height:10px;color:#000;letter-spacing:-0.4px;">13 Jan 00:00</div>
<div class="t" style="left:693px;top:929.80px;font-size:10px;line-height:10px;color:#000;letter-spacing:-0.4px;">14 Jan 08:00</div>
<div class="t" style="left:757px;top:929.80px;font-size:10px;line-height:10px;color:#000;letter-spacing:-0.4px;">17 Jan 16:00</div>
<div class="t" style="left:821px;top:929.80px;font-size:10px;line-height:10px;color:#000;letter-spacing:-0.4px;">19 Jan 00:00</div>
<div class="t" style="left:885px;top:929.80px;font-size:10px;line-height:10px;color:#000;letter-spacing:-0.4px;">20 Jan 08:00</div>
<div class="t" style="left:949px;top:929.80px;font-size:10px;line-height:10px;color:#000;letter-spacing:-0.4px;">21 Jan 16:00</div>
<div class="t" style="left:1013px;top:929.80px;font-size:10px;line-height:10px;color:#000;letter-spacing:-0.4px;">25 Jan 00:00</div>
<div class="t" style="left:1077px;top:929.80px;font-size:10px;line-height:10px;color:#000;letter-spacing:-0.4px;">26 Jan 08:00</div>
<div class="t" style="left:1141px;top:929.80px;font-size:10px;line-height:10px;color:#000;letter-spacing:-0.4px;">27 Jan 16:00</div>
<div class="t" style="left:1205px;top:929.80px;font-size:10px;line-height:10px;color:#000;letter-spacing:-0.4px;">31 Jan 00:00</div>
<div class="t" style="left:1269px;top:929.80px;font-size:10px;line-height:10px;color:#000;letter-spacing:-0.4px;">1 Feb 08:00</div>
<div class="t" style="left:1333px;top:929.80px;font-size:10px;line-height:10px;color:#000;letter-spacing:-0.4px;">2 Feb 16:00</div>
<div class="t" style="left:1397px;top:929.80px;font-size:10px;line-height:10px;color:#000;letter-spacing:-0.4px;">4 Feb 00:00</div>
<div class="t" style="left:-11px;top:929.80px;font-size:10px;line-height:10px;color:#000;letter-spacing:-0.4px;">27 Dec 2021</div>
<div class="t" style="left:5px;top:27.40px;font-size:10px;line-height:10px;color:#000;letter-spacing:-0.4px;">GBPJPY-,H4&nbsp; 155.949 156.141 155.868 155.915</div>
<div class="t" style="left:-4px;top:583.40px;font-size:10px;line-height:10px;color:#000;letter-spacing:-0.4px;">MACD(12,26,9) 0.3591 0.3630</div>
<div class="t" style="left:-6.5px;top:755.30px;font-size:10px;line-height:10px;color:#000;letter-spacing:-0.4px;">RSI(14) 59.1267</div>
<!-- one-click trading panel -->
<div class="bl" style="left:0;top:43px;width:212px;height:24px;background:#fff;"></div>
<div class="bl" style="left:0;top:43px;width:45px;height:24px;background:linear-gradient(#5858f4,#2a2ad8);"></div>
<div class="bl" style="left:160px;top:43px;width:52px;height:24px;background:linear-gradient(#5858f4,#2a2ad8);"></div>
<div class="bl" style="left:0;top:67px;width:102px;height:33px;background:linear-gradient(#3434dc,#0000a4);"></div>
<div class="bl" style="left:104px;top:67px;width:108px;height:33px;background:linear-gradient(#3434dc,#0000a4);"></div>
<div class="bl" style="left:0;top:67px;width:41px;height:1px;background:#6c6cf0;"></div>
<div class="bl" style="left:164px;top:67px;width:44px;height:1px;background:#6c6cf0;"></div>
<div class="bl" style="left:47px;top:43px;width:111px;height:22px;background:#fff;border:1px solid #b4b4b4;box-sizing:border-box;"></div>
<div class="bl" style="left:48px;top:44px;width:20px;height:19px;background:linear-gradient(#ececec,#cfcfcf);border-right:1px solid #c4c4c4;box-sizing:border-box;"></div>
<div class="bl" style="left:137px;top:44px;width:20px;height:19px;background:linear-gradient(#ececec,#cfcfcf);border-left:1px solid #c4c4c4;box-sizing:border-box;"></div>
<div class="bl" style="left:55px;top:52px;width:0;height:0;border-left:3px solid transparent;border-right:3px solid transparent;border-top:3px solid #5a6ab8;"></div>
<div class="bl" style="left:144px;top:51px;width:0;height:0;border-left:3px solid transparent;border-right:3px solid transparent;border-bottom:3px solid #5a6ab8;"></div>
<div class="t" style="left:5.4px;top:48.5px;font-size:12px;line-height:13px;color:#fff;transform:scaleX(0.88);transform-origin:0 0;">SELL</div>
<div class="t" style="left:173.5px;top:48.5px;font-size:12px;line-height:13px;color:#fff;transform:scaleX(0.94);transform-origin:0 0;">BUY</div>
<div class="t" style="right:1564px;top:46.8px;font-size:13px;line-height:14px;color:#000;">1.00</div>
<div class="t" style="left:16.5px;top:85.3px;font-size:12px;line-height:13px;color:#fff;font-weight:bold;">155</div>
<div class="t" style="left:40px;top:66.5px;font-size:34px;line-height:34px;color:#fff;letter-spacing:-1.6px;">91</div>
<div class="t" style="left:80.5px;top:68.5px;font-size:12px;line-height:13px;color:#fff;font-weight:bold;">5</div>
<div class="t" style="left:126.5px;top:85.3px;font-size:12px;line-height:13px;color:#fff;font-weight:bold;">155</div>
<div class="t" style="left:151px;top:66.5px;font-size:34px;line-height:34px;color:#fff;letter-spacing:-1.6px;">95</div>
<div class="t" style="left:191px;top:68.5px;font-size:12px;line-height:13px;color:#fff;font-weight:bold;">4</div>
<!-- toolbar -->
<div id="tb"></div><div id="tbl1"></div><div id="tbl2"></div><div id="edge"></div>
<div class="sep" style="left:10px"></div>
<div class="sep" style="left:299px"></div><div class="grip" style="left:303px"></div>
<div class="act" style="left:338px;width:24px"></div><div class="sep" style="left:337px"></div>
<div class="sep" style="left:394px"></div>
<div class="sep" style="left:484px"></div><div class="act" style="left:489px;width:26px"></div>
<div class="sep" style="left:517px"></div><div class="act" style="left:518px;width:24px"></div>
<div class="sep" style="left:546px"></div>
<div class="sep" style="left:667px"></div><div class="grip" style="left:671px"></div>
<div class="sep" style="left:677px"></div><div class="act" style="left:678px;width:24px"></div>
<div class="sep" style="left:734px"></div>
<div class="sep" style="left:973px"></div><div class="grip" style="left:977px"></div>
<div class="act" style="left:1123px;width:25px"></div><div class="sep" style="left:1122px"></div>
<div class="sep" style="left:1233px"></div>
<div class="dd" style="left:578px"></div><div class="dd" style="left:617px"></div><div class="dd" style="left:656px"></div><div class="dd" style="left:961px"></div>
<div class="t" style="left:39px;top:-2.5px;font-size:12.5px;line-height:16px;color:#1a1a1a;letter-spacing:0.5px;">New Order</div>
<div class="t" style="left:220px;top:-2.5px;font-size:12.5px;line-height:16px;color:#1a1a1a;letter-spacing:0.3px;">AutoTrading</div>
<div class="tf" style="left:988.5px">M1</div><div class="tf" style="left:1016.5px">M5</div><div class="tf" style="left:1042.5px">M15</div>
<div class="tf" style="left:1070.5px">M30</div><div class="tf" style="left:1101px">H1</div><div class="tf" style="left:1128px">H4</div>
<div class="tf" style="left:1157px">D1</div><div class="tf" style="left:1184.5px">W1</div><div class="tf" style="left:1211px">MN</div>
<svg class="ico" width="1697" height="19" viewBox="0 0 1697 19" style="left:0;top:0">
<!-- left edge orange bit -->
<path d="M0 12l2 2v2H0z" fill="#e8a020"/>
<!-- new order: doc + green plus -->
<path d="M20.500 -1v13.500h11v-9.500l-3-3z" fill="#fff" stroke="#8a8a8a"/>
<path d="M28.500 0v3h3" fill="none" stroke="#8a8a8a"/>
<path d="M22.500 2.500h3M22.500 5.500h6M22.500 7.500h5" stroke="#a8a8a8" fill="none"/>
<path d="M28.500 5.500h3v4h4v3h-4v4h-3v-4h-4v-3h4z" fill="#34e034" stroke="#149014"/>
<!-- orange book -->
<path d="M116 8l7-8l9 8l-4 6l-8-2z" fill="#e9a92c" stroke="#b87a10" stroke-width="0.8"/>
<path d="M120 12l8 2l1-2" fill="#fbe8b0" stroke="#b87a10" stroke-width="0.6"/>
<!-- monitor/cloud -->
<rect x="146.500" y="0.500" width="10" height="8" fill="#4a98e8" stroke="#2c68c0"/>
<rect x="148" y="2" width="7" height="1.500" fill="#e8f4ff"/><rect x="148" y="5" width="4" height="1" fill="#cfe4fb"/>
<path d="M145 14.500a3 3 0 0 1 1.500-5.500a3.500 3.500 0 0 1 6.500-0.500a3 3 0 0 1 5 2.500a2 2 0 0 1-1 3.500z" fill="#f4f8ff" stroke="#6c8cc8" stroke-width="0.900"/>
<!-- signal -->
<circle cx="180" cy="7" r="7.5" fill="none" stroke="#a8c4e4" stroke-width="1.4"/>
<circle cx="180" cy="7" r="4.5" fill="none" stroke="#6c98d0" stroke-width="1.4"/>
<path d="M180 5a2.2 2.2 0 0 1 1 4v6h-2v-6a2.2 2.2 0 0 1 1-4z" fill="#40a840"/>
<path d="M181 14a8 8 0 0 0 6-4" fill="none" stroke="#40a840" stroke-width="2"/>
<!-- autotrading -->
<path d="M200.500 6h13.500l-4.500 7.500c-1.500 1.500-3 1.500-4.500 0z" fill="#f0c838" stroke="#b88a10" stroke-width="0.700"/>
<ellipse cx="207" cy="4.500" rx="8" ry="2.600" fill="#5a9ae0" stroke="#3868b8" stroke-width="0.700"/>
<path d="M203.500 4c0.500-3 1.500-4 3.500-4s3 1 3.500 4c-2 1-5 1-7 0z" fill="#78b0ec" stroke="#3868b8" stroke-width="0.600"/>
<circle cx="211.500" cy="10.500" r="4" fill="#e02010"/><rect x="210" y="9" width="3" height="3" fill="#fff"/>
<!-- bar chart icon -->
<g stroke="#404040" fill="none"><path d="M318.500 1v14M315 12.500h14"/></g>
<path d="M323.500 3v8M323.500 3.500h2M321.500 10.500h2" stroke="#20a020" fill="none"/>
<path d="M318.500 0l-2 3h4zM330 12.500l-3-2v4z" fill="#404040"/>
<!-- candle icon -->
<g stroke="#404040" fill="none"><path d="M346.500 1v14M343 12.500h14"/></g>
<path d="M346.500 0l-2 3h4zM358 12.500l-3-2v4z" fill="#404040"/>
<rect x="350" y="2" width="4" height="8" fill="#20a020" stroke="#107010" stroke-width="0.8"/><path d="M352 0v2M352 10v2" stroke="#107010"/>
<!-- line chart icon -->
<g stroke="#404040" fill="none"><path d="M374.500 1v14M371 12.500h14"/></g>
<path d="M374.500 0l-2 3h4zM386 12.500l-3-2v4z" fill="#404040"/>
<path d="M375 9c2-5 5-6 8-1" stroke="#20a020" fill="none"/>
<!-- zoom in/out -->
<g><circle cx="409" cy="5" r="5" fill="#d8ecfc" stroke="#4888d8" stroke-width="1.4"/><path d="M413 9l5 5" stroke="#d8a020" stroke-width="2.6" stroke-linecap="round"/><path d="M406.500 5h5M409 2.500v5" stroke="#2060c0" stroke-width="1.4"/></g>
<g><circle cx="437" cy="5" r="5" fill="#d8ecfc" stroke="#4888d8" stroke-width="1.4"/><path d="M441 9l5 5" stroke="#d8a020" stroke-width="2.6" stroke-linecap="round"/><path d="M434.500 5h5" stroke="#2060c0" stroke-width="1.4"/></g>
<!-- tiles -->
<rect x="459" y="0" width="7" height="6" fill="#58b030"/><rect x="468" y="0" width="7" height="6" fill="#3878d8"/>
<rect x="459" y="8" width="7" height="6" fill="#3878d8"/><rect x="468" y="8" width="7" height="6" fill="#58b030"/>
<path d="M460.500 3.500h4M469.500 3.500h4M460.500 11.500h4M469.500 11.500h4" stroke="#fff"/>
<!-- chart shift -->
<g stroke="#404040" fill="none"><path d="M498.500 1v14M495 12.500h14"/></g>
<path d="M498.500 0l-2 3h4zM510 12.500l-3-2v4z" fill="#404040"/>
<path d="M502 3.500l4 3l-4 3z" fill="#fff" stroke="#20a020"/>
<!-- autoscroll -->
<g stroke="#404040" fill="none"><path d="M526.500 1v14M523 12.500h14M531.500 1v9"/></g>
<path d="M526.500 0l-2 3h4zM538 12.500l-3-2v4z" fill="#404040"/>
<path d="M537 6.500h-4M535 4l-2.500 2.500l2.500 2.500" stroke="#d03010" fill="none"/>
<!-- indicators: doc + plus -->
<path d="M557.500 9.500v-8h2v-1.500h5v1.500h2v4" fill="#fff" stroke="#909090"/>
<path d="M563.500 5.500h3v4h4v3h-4v4h-3v-4h-4v-3h4z" fill="#34e034" stroke="#149014"/>
<!-- clock -->
<circle cx="601.500" cy="7" r="7" fill="#2868c8" stroke="#1848a0" stroke-width="1"/><circle cx="601.500" cy="7" r="4.800" fill="#f4f8ff"/>
<path d="M601.500 4v3.500h3" stroke="#303030" fill="none" stroke-width="1"/>
<!-- template -->
<rect x="633.500" y="0.500" width="15" height="12" rx="1.500" fill="#f4f8ff" stroke="#3070c8" stroke-width="1.400"/>
<path d="M636 5l3-1l3 1l4-2" stroke="#d03010" fill="none"/><path d="M636 10l3-1.500l3 1l4-1.500" stroke="#20a020" fill="none"/>
<!-- cursor -->
<path d="M685.500 0v12l3-3l2.500 5l1.800-1l-2.500-5h4z" fill="#303030"/>
<!-- crosshair -->
<path d="M717.500 0v15M710 7.500h15" stroke="#404040" fill="none"/>
<!-- v/h/diag lines -->
<path d="M751.500 1v13M773 7.500h13M801 14l13-13" stroke="#404040" fill="none"/>
<!-- E channel -->
<path d="M828 9l11-8M830 13l11-8M832 2v12M836 0v12" stroke="#505050" fill="none" stroke-dasharray="2 1"/>
<path d="M839.500 10.500h3M839.500 13h2.500M839.500 15.500h3M839.500 10.500v5" stroke="#303030" fill="none"/>
<!-- F fibo -->
<path d="M856 0.500h13M856 4.500h13M856 8.500h13M856 12.500h8" stroke="#505050" fill="none" stroke-dasharray="1 1"/>
<path d="M867.500 10.500h3.500M867.500 13h2.500M867.500 10.500v5.500" stroke="#303030" fill="none"/>
<!-- arrows icon -->
<path d="M945 1l4 4h-8zM945 9l4-4" fill="#404040"/><path d="M944 9l4 4l5-6" stroke="#404040" fill="none" stroke-width="1.400"/><path d="M951 13l3-3l3 3l-3 3z" fill="#404040"/>
<path d="M941 5l4-4l4 4l-4 3z" fill="#404040"/>
<!-- T dotted -->
<rect x="913.500" y="0.500" width="12" height="13" fill="none" stroke="#505050" stroke-dasharray="1 1"/>
<!-- search -->
<circle cx="1651.700" cy="4.500" r="3.600" fill="#fff" stroke="#2864d8" stroke-width="1.500"/><path d="M1649 7.300l-5 4.700" stroke="#2058c8" stroke-width="2.400"/>
<!-- bubble + red -->
<ellipse cx="1674.500" cy="9" rx="6" ry="5" fill="#e4e6ee" stroke="#c0c2c8" stroke-width="0.800"/><path d="M1670.500 12l0.500 3.500l3-2.500z" fill="#d8dae2"/>
<defs><linearGradient id="rg" x1="0" y1="0" x2="0" y2="1"><stop offset="0" stop-color="#ee5636"/><stop offset="1" stop-color="#c81a0a"/></linearGradient></defs><circle cx="1682.800" cy="4.800" r="8" fill="url(#rg)"/><path d="M1680.400 0h3.100v7.400h1.700v1.500h-6.300v-1.500h1.500v-5.200h-1.800v-1.300z" fill="#fff"/>
</svg>
<div class="t" style="left:887px;top:1px;font-size:12px;line-height:13px;color:#606060;font-weight:bold;">A</div>
<div class="t" style="left:916px;top:2px;font-size:11px;line-height:12px;color:#606060;font-weight:bold;">T</div>

</body></html>
